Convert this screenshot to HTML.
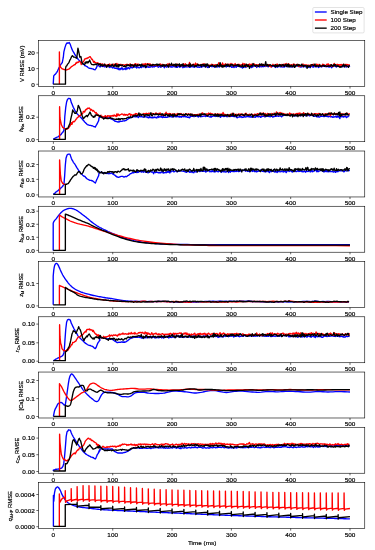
<!DOCTYPE html>
<html><head><meta charset="utf-8"><style>
html,body{margin:0;padding:0;background:#fff;width:375px;height:550px;overflow:hidden}
svg{display:block;will-change:transform;filter:blur(0.3px)}
.tl{font-family:"Liberation Sans",sans-serif;font-size:6.2px;fill:#000;stroke:#000;stroke-width:0.18px}
.yl{font-family:"Liberation Sans",sans-serif;font-size:6px;fill:#000;stroke:#000;stroke-width:0.18px}
</style></head><body>
<svg width="375" height="550" viewBox="0 0 375 550">
<rect width="375" height="550" fill="#fff"/>
<polyline points="53.2,84.19 53.73,75.87 54.53,74.82 55.33,74.27 56.04,73.28 56.76,72.33 57.47,71.07 58.18,69.54 58.89,67.96 59.6,66.8 60.67,64.67 61.47,63.59 62.27,62.53 63.33,57.2 63.87,51.87 64.93,47.6 66,44.4 67.07,42.8 68.13,43.33 69.2,42.48 70.27,44.4 71.33,47.6 72.4,50.27 73.2,51.7 74,52.93 74.8,54.49 75.6,55.6 76.31,56.42 77.02,57.47 77.73,58.8 78.44,59.65 79.16,60.32 79.87,60.93 80.58,61.95 81.29,62.55 82,63.07 82.71,63.58 83.42,64.08 84.13,64.67 84.84,65.71 85.56,65.68 86.27,66.27 86.98,66.64 87.69,67.11 88.4,67.87 89.04,68.06 89.69,68.25 90.33,68.4 91,68.46 91.67,68.65 92.33,68.85 93,68.93 93.67,69.34 94.33,69.69 95,69.73 95.67,68.91 96.33,68 97,66.31 97.67,65.33 98.33,64.27 98.93,65.92 99.53,66.36 100.13,66.99 100.73,66.1 101.33,66.15 101.93,65.91 102.53,66.58 103.13,66.14 103.73,65.9 104.33,66.91 104.93,65.4 105.53,66.29 106.13,67.03 106.73,66.14 107.33,66.17 107.93,66.39 108.53,66.83 109.13,66.03 109.73,67.55 110.33,66.56 110.93,66.82 111.53,66.89 112.13,67.66 112.73,67.93 113.33,66.85 113.93,67.5 114.53,68.18 115.13,68.41 115.73,68.03 116.33,68.6 116.93,68.42 117.53,67.98 118.13,69.59 118.73,68.59 119.33,68.77 119.93,69.82 120.53,68.39 121.13,69.22 121.73,67.79 122.33,67.87 122.93,69.71 123.53,69.11 124.13,68.86 124.73,69.07 125.33,68.12 125.93,69.63 126.53,67.79 127.13,68.97 127.73,67.94 128.33,67.49 128.93,68.51 129.53,68.89 130.13,67.65 130.73,67.41 131.33,66.3 131.93,67.89 132.53,67.94 133.13,66.95 133.73,67.13 134.33,66.33 134.93,67 135.53,66.82 136.13,67.34 136.73,67.92 137.33,66.21 137.93,66.94 138.53,67.59 139.13,67.88 139.73,67.55 140.33,66.72 140.93,67.43 141.53,67.66 142.13,66.65 142.73,66.62 143.33,66.42 143.93,66.98 144.53,66.59 145.13,66.52 145.73,67.67 146.33,67.2 146.93,67.18 147.53,66.86 148.13,66.54 148.73,67.33 149.33,66.94 149.93,67.2 150.53,67.02 151.13,66.56 151.73,66.33 152.33,67.14 152.93,66.29 153.53,66.1 154.13,67.03 154.73,66.45 155.33,66.41 155.93,66.43 156.53,65.87 157.13,65.7 157.73,66.74 158.33,67.28 158.93,66.86 159.53,65.83 160.13,65.96 160.73,67.22 161.33,66.97 161.93,66.24 162.53,66.24 163.13,65.73 163.73,66.39 164.33,67.85 164.93,65.61 165.53,65.98 166.13,67.01 166.73,67.1 167.33,65.89 167.93,66.51 168.53,66.71 169.13,66.7 169.73,66.1 170.33,66.93 170.93,65.99 171.53,67.16 172.13,67.13 172.73,66.75 173.33,66.66 173.93,66.51 174.53,66.5 175.13,67.1 175.73,66.42 176.33,67.33 176.93,66.75 177.53,67.35 178.13,66.41 178.73,66.09 179.33,66.54 179.93,67.21 180.53,65.86 181.13,66.19 181.73,66.59 182.33,66.12 182.93,67.68 183.53,66.46 184.13,67.05 184.73,67.2 185.33,66.08 185.93,66.79 186.53,66.95 187.13,66.69 187.73,66.77 188.33,66.55 188.93,66.18 189.53,67.39 190.13,67.28 190.73,66.91 191.33,66.42 191.93,66.51 192.53,66.64 193.13,67.07 193.73,66.6 194.33,67.23 194.93,66.89 195.53,66.53 196.13,66.73 196.73,65.9 197.33,66.99 197.93,67.26 198.53,67 199.13,67.08 199.73,67.33 200.33,66.96 200.93,66.17 201.53,67.2 202.13,66.38 202.73,66.8 203.33,65.71 203.93,65.79 204.53,66.63 205.13,66.72 205.73,66.06 206.33,66.32 206.93,66.68 207.53,67.45 208.13,66.52 208.73,67.47 209.33,65.66 209.93,66.29 210.53,66.14 211.13,66.58 211.73,66.33 212.33,66.63 212.93,66.51 213.53,66.53 214.13,66.43 214.73,67.23 215.33,66.12 215.93,65.85 216.53,65.69 217.13,67.04 217.73,66.13 218.33,66.48 218.93,66.51 219.53,67.05 220.13,65.84 220.73,66.05 221.33,65.93 221.93,65.71 222.53,66.67 223.13,65.82 223.73,66.32 224.33,66.3 224.93,66.09 225.53,65.84 226.13,67.05 226.73,66.11 227.33,66.31 227.93,65.64 228.53,66.14 229.13,66.66 229.73,66.24 230.33,66.45 230.93,66.17 231.53,67.29 232.13,67.32 232.73,66.67 233.33,65.85 233.93,67.53 234.53,66.82 235.13,66.92 235.73,66.61 236.33,67.18 236.93,65.95 237.53,66.31 238.13,66.28 238.73,66.33 239.33,66.67 239.93,66.69 240.53,67.16 241.13,66.01 241.73,66.95 242.33,68.05 242.93,67.75 243.53,66.34 244.13,67.23 244.73,65.63 245.33,66.62 245.93,67.46 246.53,66.32 247.13,66.09 247.73,66.44 248.33,66.19 248.93,65.75 249.53,66.14 250.13,66.09 250.73,66.58 251.33,67.57 251.93,66.31 252.53,67.08 253.13,66.63 253.73,66.07 254.33,66.16 254.93,65.7 255.53,66.23 256.13,66.2 256.73,67.46 257.33,66.6 257.93,66.38 258.53,66.42 259.13,66.34 259.73,67.15 260.33,65.93 260.93,66.13 261.53,66.73 262.13,66.67 262.73,66.67 263.33,66.73 263.93,66.36 264.53,65.91 265.13,66.51 265.73,65.39 266.33,65.69 266.93,66.16 267.53,65.53 268.13,66.92 268.73,66.47 269.33,65.8 269.93,66.13 270.53,66.26 271.13,66.39 271.73,66.8 272.33,66.36 272.93,66.24 273.53,65.88 274.13,66.38 274.73,66.41 275.33,67.44 275.93,66.73 276.53,66.37 277.13,65.96 277.73,67.29 278.33,66.24 278.93,66.07 279.53,66.08 280.13,66.76 280.73,66.85 281.33,66.83 281.93,66.73 282.53,66.84 283.13,67.06 283.73,65.86 284.33,67.14 284.93,66.45 285.53,65.51 286.13,66.48 286.73,66.26 287.33,66.72 287.93,66.75 288.53,66.2 289.13,66.51 289.73,65.72 290.33,66.15 290.93,67.3 291.53,65.89 292.13,66.36 292.73,66.74 293.33,66.6 293.93,66.67 294.53,66.52 295.13,66.53 295.73,65.1 296.33,66.1 296.93,65.63 297.53,65.91 298.13,65.47 298.73,65.99 299.33,65.7 299.93,66.81 300.53,66.99 301.13,66.6 301.73,66.96 302.33,65.55 302.93,66.58 303.53,66.51 304.13,66.52 304.73,66.33 305.33,66.71 305.93,67 306.53,66.52 307.13,67.07 307.73,66.58 308.33,67.25 308.93,65.53 309.53,66.24 310.13,67.72 310.73,66.78 311.33,65.88 311.93,66.2 312.53,66.58 313.13,67.21 313.73,66 314.33,66.58 314.93,66.68 315.53,66.39 316.13,67.02 316.73,65.44 317.33,66.1 317.93,66.84 318.53,67.44 319.13,67.02 319.73,66.63 320.33,66.3 320.93,65.73 321.53,66.96 322.13,66.54 322.73,66.34 323.33,66.3 323.93,66.28 324.53,65.49 325.13,66.6 325.73,66.15 326.33,66.79 326.93,65.67 327.53,65.99 328.13,66.99 328.73,65.36 329.33,67.01 329.93,66.94 330.53,66.36 331.13,65.84 331.73,67.83 332.33,66.42 332.93,65.94 333.53,65.75 334.13,66.18 334.73,65.84 335.33,66.5 335.93,66.52 336.53,67.03 337.13,66.28 337.73,66.35 338.33,66.35 338.93,65.92 339.53,66.32 340.13,66.59 340.73,66.42 341.33,66.34 341.93,66.1 342.53,66.76 343.13,65.52 343.73,66.33 344.33,65.69 344.93,66.06 345.53,65.54 346.13,67.18 346.73,65.91 347.33,66.59 347.93,65.78 348.53,66.72 349.13,65.53 349.73,66.69" stroke="#0000ff" stroke-width="1.35" fill="none" stroke-linejoin="round"/>
<polyline points="59.39,84.19 59.39,51.87 59.6,64.67 60.67,67.33 61.47,68.13 62.27,68.93 63.07,69.2 63.87,69.47 64.58,69.64 65.29,69.82 66,70 66.64,69.79 67.28,69.57 67.92,69.36 68.56,69.15 69.2,68.93 69.91,68.22 70.62,67.51 71.33,66.8 71.97,66.37 72.61,65.95 73.25,65.52 73.89,65.09 74.53,64.67 75.17,64.66 75.81,62.96 76.45,63.28 77.09,62.08 77.73,62.53 78.44,62.18 79.16,61.36 79.87,61.47 80.58,62.13 81.29,64.51 82,63.07 82.71,62.15 83.42,61.79 84.13,60.4 84.84,58.89 85.56,58.8 86.27,58.27 86.98,58.49 87.69,57.86 88.4,57.73 87.67,58 88.33,57.78 89,57.17 89.67,56.67 90.33,56.73 91,58 91.67,59.23 92.33,59.29 93,60.67 93.67,62.29 94.33,61.36 95,62.58 95.67,62.67 96.33,62.83 97,63.57 97.67,62.81 98.33,63.33 98.93,64.72 99.53,63.83 100.13,64.93 100.73,63.54 101.33,64.92 101.93,64.79 102.53,63.89 103.13,65.09 103.73,65.66 104.33,65.34 104.93,64.15 105.53,65.64 106.13,65.31 106.73,65.01 107.33,64.76 107.93,64.62 108.53,65.91 109.13,64.15 109.73,64.05 110.33,65.12 110.93,65.07 111.53,65.1 112.13,64.36 112.73,65.63 113.33,65.55 113.93,63.98 114.53,64.8 115.13,65.67 115.73,63.98 116.33,65.2 116.93,63.32 117.53,65.53 118.13,64.59 118.73,64.24 119.33,65.14 119.93,64.6 120.53,64.32 121.13,64.37 121.73,66.09 122.33,64.99 122.93,64.67 123.53,64.93 124.13,65.2 124.73,65.22 125.33,64.66 125.93,65.02 126.53,64.31 127.13,64.44 127.73,64.37 128.33,65.5 128.93,64.79 129.53,65.44 130.13,63.81 130.73,64.76 131.33,65.14 131.93,66.1 132.53,64.55 133.13,64.72 133.73,65.47 134.33,65.31 134.93,63.91 135.53,63.62 136.13,65.22 136.73,64.26 137.33,65.91 137.93,63.89 138.53,64.75 139.13,64.77 139.73,65.02 140.33,65.08 140.93,65.24 141.53,64.79 142.13,64.59 142.73,63.89 143.33,64.5 143.93,64.1 144.53,64.03 145.13,65.1 145.73,63.53 146.33,64.54 146.93,64.53 147.53,63.77 148.13,63.64 148.73,64.21 149.33,65.88 149.93,63.81 150.53,64.27 151.13,65.49 151.73,65.52 152.33,64.44 152.93,65.65 153.53,64.67 154.13,65.13 154.73,65.14 155.33,64.98 155.93,64.81 156.53,64.8 157.13,65.55 157.73,65.75 158.33,64.81 158.93,64.95 159.53,64.93 160.13,63.76 160.73,65.83 161.33,65.81 161.93,64.51 162.53,64.32 163.13,64.97 163.73,65.41 164.33,64.72 164.93,66.09 165.53,65.3 166.13,65 166.73,65.42 167.33,63.96 167.93,65.1 168.53,65.76 169.13,63.32 169.73,65.57 170.33,64.74 170.93,65 171.53,65.17 172.13,64.87 172.73,65.15 173.33,64.34 173.93,64.48 174.53,65.68 175.13,65.37 175.73,65.13 176.33,64.7 176.93,64.06 177.53,65.36 178.13,65.49 178.73,64.54 179.33,64.65 179.93,64.94 180.53,65.38 181.13,65.35 181.73,65.71 182.33,65.32 182.93,65.74 183.53,63.7 184.13,65.05 184.73,64.81 185.33,63.72 185.93,64.56 186.53,65.2 187.13,65.6 187.73,65.96 188.33,64.46 188.93,64.64 189.53,62.49 190.13,65.67 190.73,66.15 191.33,65.32 191.93,64.94 192.53,65.12 193.13,64.15 193.73,64.16 194.33,65.05 194.93,65.43 195.53,63.06 196.13,65.34 196.73,64.35 197.33,63.88 197.93,65.2 198.53,64.62 199.13,64.85 199.73,65.29 200.33,64.84 200.93,64.7 201.53,64.59 202.13,64.22 202.73,65.13 203.33,63.88 203.93,65.12 204.53,63.87 205.13,65.33 205.73,64.84 206.33,64.49 206.93,64.42 207.53,65.61 208.13,65.26 208.73,65.19 209.33,65.09 209.93,65.35 210.53,65.48 211.13,64.72 211.73,64.27 212.33,65.41 212.93,64.53 213.53,65.96 214.13,65.03 214.73,65.25 215.33,64.71 215.93,64.99 216.53,65.04 217.13,65.18 217.73,64.76 218.33,64.19 218.93,62.61 219.53,64.4 220.13,65.99 220.73,64.95 221.33,64.73 221.93,64.98 222.53,62.99 223.13,64.6 223.73,64.98 224.33,64.94 224.93,64.69 225.53,63.73 226.13,64.79 226.73,64.79 227.33,64.26 227.93,64.34 228.53,65.09 229.13,64.14 229.73,64.83 230.33,64.85 230.93,63.41 231.53,64.71 232.13,64.13 232.73,64.27 233.33,66.07 233.93,64.94 234.53,64.65 235.13,63.57 235.73,65.46 236.33,65.73 236.93,64.67 237.53,64.4 238.13,64.97 238.73,64.3 239.33,64.47 239.93,65.83 240.53,64.98 241.13,65.11 241.73,64.78 242.33,65.09 242.93,63.28 243.53,64.88 244.13,65.04 244.73,63.7 245.33,64.22 245.93,65.63 246.53,66.21 247.13,64.6 247.73,65.71 248.33,64.33 248.93,65.82 249.53,64.06 250.13,64.53 250.73,65.01 251.33,64.22 251.93,65.66 252.53,64.04 253.13,64.98 253.73,64.47 254.33,63.96 254.93,64.82 255.53,64.93 256.13,64.75 256.73,65.93 257.33,64.83 257.93,64.78 258.53,64.71 259.13,64.64 259.73,64.41 260.33,65.57 260.93,65.08 261.53,65.51 262.13,64.79 262.73,64.2 263.33,64.89 263.93,64.98 264.53,64.97 265.13,65.39 265.73,65.81 266.33,64.73 266.93,64.84 267.53,65.54 268.13,64.58 268.73,64.65 269.33,66.37 269.93,65.05 270.53,65.13 271.13,67.17 271.73,65.63 272.33,65.26 272.93,64.33 273.53,65.56 274.13,65.5 274.73,65.53 275.33,64.52 275.93,65.43 276.53,64.46 277.13,63.98 277.73,65.29 278.33,65.06 278.93,65.75 279.53,64.88 280.13,64.88 280.73,65.3 281.33,64.47 281.93,65.97 282.53,65.91 283.13,64.24 283.73,64.91 284.33,65.41 284.93,64.02 285.53,65.28 286.13,63.5 286.73,64.87 287.33,64.65 287.93,66.22 288.53,63.63 289.13,64.65 289.73,64.73 290.33,64.84 290.93,66.4 291.53,64.61 292.13,65.34 292.73,65.04 293.33,64.02 293.93,64.37 294.53,64.4 295.13,64.82 295.73,64.96 296.33,65.35 296.93,65.27 297.53,64.28 298.13,65.21 298.73,66.67 299.33,65 299.93,65.48 300.53,66.3 301.13,65.51 301.73,65.22 302.33,65.77 302.93,63.94 303.53,66.1 304.13,64.97 304.73,65.55 305.33,65.15 305.93,64.66 306.53,65.63 307.13,65.31 307.73,66.1 308.33,65.22 308.93,65.42 309.53,65.85 310.13,65.07 310.73,64.78 311.33,65.84 311.93,65.4 312.53,64.59 313.13,64.28 313.73,64.39 314.33,65.53 314.93,65.73 315.53,65.03 316.13,65.39 316.73,64.16 317.33,64.5 317.93,65.92 318.53,65.47 319.13,64.26 319.73,65.76 320.33,65.64 320.93,65.19 321.53,65.87 322.13,66.37 322.73,64.13 323.33,65.03 323.93,64.58 324.53,65.28 325.13,65.67 325.73,65.79 326.33,64.97 326.93,64.3 327.53,64.75 328.13,63.76 328.73,65.13 329.33,65.63 329.93,64.94 330.53,64.72 331.13,65.3 331.73,66.11 332.33,65.99 332.93,65.21 333.53,66.35 334.13,63.4 334.73,64.57 335.33,64.61 335.93,65.18 336.53,64.67 337.13,64.48 337.73,64.41 338.33,64.88 338.93,64.68 339.53,66.78 340.13,64.54 340.73,65.14 341.33,64.44 341.93,65.51 342.53,65.26 343.13,64.31 343.73,64.28 344.33,65.07 344.93,65.52 345.53,64.33 346.13,65.93 346.73,64.34 347.33,64.63 347.93,65.13 348.53,64.84 349.13,64.82 349.73,65.1" stroke="#ff0000" stroke-width="1.35" fill="none" stroke-linejoin="round"/>
<polyline points="53.2,84.19 65.47,84.19 65.47,68.93 66,66.27 66.71,65.88 67.42,64.43 68.13,63.6 68.93,62.63 69.73,60.4 70.53,59.11 71.33,57.2 72.4,55.6 73.2,56.47 74,57.2 74.8,57.08 75.6,57.73 76.67,58.27 77.31,53.58 77.95,48.13 78.8,51.87 79.87,57.2 80.93,56.67 82,62.53 83.07,64.13 83.78,64.19 84.49,64.6 85.2,63.6 85.91,62.88 86.62,62.81 87.33,62 88.4,62.53 87.72,62.81 87.04,62.73 86.36,62.72 85.68,62.73 85,62.67 85.67,62.2 86.33,61.83 87,61.97 87.67,62 88.33,61.63 89,61.42 89.67,60 90.33,62.16 91,63.33 91.67,64.3 92.33,64.61 93,64.67 93.67,64.85 94.33,64.43 95,64.55 95.67,64 96.33,64.89 97,63.84 97.67,63.65 98.33,64 98.93,64.72 99.53,64.17 100.13,63.95 100.73,65.76 101.33,64.94 101.93,64.48 102.53,66 103.13,65.64 103.73,65.38 104.33,64.08 104.93,65.3 105.53,65.06 106.13,65.69 106.73,67.27 107.33,65.78 107.93,65.87 108.53,64.62 109.13,66.01 109.73,65.65 110.33,65.76 110.93,66.02 111.53,66.13 112.13,64.26 112.73,65.76 113.33,66.06 113.93,66.35 114.53,64.92 115.13,66.16 115.73,63.99 116.33,65.87 116.93,66.85 117.53,65.98 118.13,64.66 118.73,67.02 119.33,64.74 119.93,65.55 120.53,65.12 121.13,65.5 121.73,65.13 122.33,65.04 122.93,65.95 123.53,66.35 124.13,66.55 124.73,65.71 125.33,66.77 125.93,66.93 126.53,65.05 127.13,64.93 127.73,65.71 128.33,64.9 128.93,65.44 129.53,65.42 130.13,66.47 130.73,64.51 131.33,65.31 131.93,64.87 132.53,65.52 133.13,65.33 133.73,66.94 134.33,65.46 134.93,64.5 135.53,65.24 136.13,66.25 136.73,65.93 137.33,64.7 137.93,65.42 138.53,65.48 139.13,65.34 139.73,64.44 140.33,65.36 140.93,66.46 141.53,64.24 142.13,65.57 142.73,65.2 143.33,66.13 143.93,65.74 144.53,65.78 145.13,65.12 145.73,67.19 146.33,66.54 146.93,65.52 147.53,64.19 148.13,64.68 148.73,64.84 149.33,65.1 149.93,65.57 150.53,64.84 151.13,65.56 151.73,65.23 152.33,65.33 152.93,64.37 153.53,64.6 154.13,65.18 154.73,64.97 155.33,65 155.93,64.53 156.53,64.15 157.13,65.34 157.73,64.13 158.33,65.22 158.93,64.45 159.53,64.52 160.13,65.42 160.73,65.76 161.33,65.92 161.93,65.22 162.53,66.17 163.13,64.54 163.73,65.61 164.33,65.01 164.93,66.28 165.53,65.47 166.13,64.72 166.73,65 167.33,65.64 167.93,66.04 168.53,67.12 169.13,64.16 169.73,64.94 170.33,64.86 170.93,65.06 171.53,63.13 172.13,65.26 172.73,65.38 173.33,65.41 173.93,64.42 174.53,64.49 175.13,65.86 175.73,63.89 176.33,66.57 176.93,64.33 177.53,64.38 178.13,65.06 178.73,65 179.33,63.82 179.93,66.51 180.53,66.13 181.13,64.46 181.73,64.91 182.33,65.6 182.93,63.82 183.53,66.04 184.13,65.56 184.73,66.09 185.33,65.36 185.93,65.87 186.53,64.98 187.13,65.42 187.73,65.22 188.33,64.9 188.93,66.54 189.53,65.95 190.13,63.63 190.73,66.38 191.33,65.24 191.93,65.87 192.53,64.8 193.13,64.72 193.73,64.96 194.33,66.58 194.93,65.97 195.53,65.52 196.13,66.48 196.73,65.53 197.33,64.91 197.93,64.23 198.53,65.41 199.13,65.85 199.73,65.29 200.33,65.42 200.93,64.58 201.53,66.62 202.13,64.77 202.73,64.61 203.33,64.43 203.93,65.88 204.53,65.79 205.13,64.25 205.73,67 206.33,64.26 206.93,65.55 207.53,63.9 208.13,65.37 208.73,65.6 209.33,67.19 209.93,65.68 210.53,65.79 211.13,65.39 211.73,65.47 212.33,65.04 212.93,65.77 213.53,66.31 214.13,66.3 214.73,65.56 215.33,65.83 215.93,67.16 216.53,66.24 217.13,64.42 217.73,65.73 218.33,65.42 218.93,66.5 219.53,65.99 220.13,62.61 220.73,65.22 221.33,66.84 221.93,65.3 222.53,67.04 223.13,65.58 223.73,66.88 224.33,65.4 224.93,66.3 225.53,65.93 226.13,64.35 226.73,65.32 227.33,66.06 227.93,64.17 228.53,65.61 229.13,65.97 229.73,66.56 230.33,64.61 230.93,65.28 231.53,64.39 232.13,65.04 232.73,64.81 233.33,65.86 233.93,66.14 234.53,65.31 235.13,65.39 235.73,65.04 236.33,65.47 236.93,64.98 237.53,64.61 238.13,66.08 238.73,64.74 239.33,66.42 239.93,65.77 240.53,66 241.13,66.35 241.73,66.7 242.33,64.65 242.93,66.4 243.53,67.02 244.13,65.92 244.73,65.08 245.33,66.54 245.93,65.07 246.53,64.19 247.13,65.72 247.73,66.46 248.33,64.97 248.93,65.99 249.53,68.37 250.13,66.53 250.73,65.92 251.33,65.52 251.93,66.17 252.53,65.83 253.13,63.53 253.73,64.59 254.33,65.49 254.93,65.74 255.53,66.36 256.13,65.11 256.73,65.13 257.33,65.93 257.93,65.78 258.53,66.46 259.13,65.96 259.73,63.9 260.33,64.58 260.93,65.41 261.53,63.83 262.13,64.7 262.73,65.83 263.33,64.44 263.93,64.94 264.53,65.64 265.13,64.47 265.73,61.72 266.33,65.55 266.93,65.82 267.53,64.47 268.13,66.08 268.73,65.49 269.33,65.4 269.93,64.68 270.53,65.02 271.13,65.35 271.73,65.89 272.33,65.69 272.93,65.63 273.53,65.6 274.13,65.43 274.73,66.54 275.33,64.77 275.93,66.79 276.53,65.39 277.13,66.51 277.73,65.3 278.33,66.17 278.93,64.97 279.53,64.39 280.13,65.93 280.73,64.89 281.33,66.24 281.93,65.63 282.53,64.68 283.13,64.63 283.73,65.69 284.33,66.33 284.93,65.04 285.53,64.57 286.13,65.15 286.73,66.51 287.33,64.09 287.93,66.07 288.53,64.28 289.13,66.98 289.73,65.16 290.33,66.36 290.93,65.59 291.53,65.26 292.13,66.88 292.73,66.6 293.33,65.62 293.93,64.4 294.53,67.43 295.13,66.86 295.73,65.6 296.33,65.48 296.93,64.34 297.53,65.79 298.13,65.76 298.73,64.56 299.33,65.12 299.93,65.64 300.53,65.27 301.13,65.9 301.73,64.23 302.33,65.49 302.93,65.31 303.53,66.76 304.13,65.38 304.73,65.33 305.33,65.9 305.93,65.59 306.53,66.03 307.13,68.26 307.73,65.47 308.33,66.35 308.93,66.61 309.53,65.89 310.13,67.06 310.73,65.99 311.33,64.79 311.93,64.59 312.53,64.9 313.13,65.46 313.73,65.69 314.33,65.45 314.93,63.88 315.53,66.46 316.13,65.6 316.73,66.24 317.33,65.81 317.93,65.86 318.53,66.35 319.13,66.06 319.73,64.94 320.33,65.88 320.93,66.59 321.53,66.01 322.13,65.99 322.73,65.48 323.33,65.64 323.93,65.35 324.53,66.4 325.13,65.49 325.73,66.2 326.33,66.34 326.93,66.21 327.53,66.4 328.13,66.07 328.73,65.83 329.33,66.09 329.93,65.99 330.53,66.29 331.13,64.63 331.73,65.08 332.33,65.89 332.93,66.61 333.53,65.07 334.13,64.52 334.73,65.55 335.33,64.57 335.93,66.22 336.53,65.89 337.13,66.29 337.73,65.57 338.33,66.13 338.93,66.6 339.53,66.57 340.13,67.35 340.73,66.61 341.33,67.08 341.93,66.51 342.53,65.75 343.13,65.07 343.73,64.3 344.33,67 344.93,65.62 345.53,65.14 346.13,65.6 346.73,66.02 347.33,66.46 347.93,66.27 348.53,67.31 349.13,65.61 349.73,65.76" stroke="#000000" stroke-width="1.35" fill="none" stroke-linejoin="round"/>
<polyline points="53.33,139.33 53.96,138.78 54.58,138.36 55.2,138.17 55.82,137.73 56.44,137.64 57.07,137.07 57.73,136.91 58.4,136.58 59.07,135.89 59.73,135.47 60.43,134.84 61.13,134.36 61.83,133.18 62.53,132.53 63.2,131.72 63.87,130.4 64.4,124 64.8,116.67 65.73,107.47 66.6,102 67.47,99.47 68.2,98.74 68.93,98.27 69.6,98.63 70.27,98.67 71.33,102.67 72,104 72.67,105.72 73.33,107.33 74,108.64 74.67,109.97 75.33,111.33 76,111.94 76.67,113.13 77.33,114 78,114.63 78.67,115.56 79.33,116 80,116.76 80.67,117.02 81.33,118.02 82,118.67 82.67,119.66 83.33,120.32 84,121.07 84.67,122 85.33,122.47 86,123.28 86.67,123.87 87.33,124.67 88,124.8 88.67,124.96 89.33,125.36 90,125.33 90.67,125.36 91.33,125.72 92,125.68 92.67,126 93.33,126.31 94,126.69 94.67,126.72 95.33,127.07 96,125.7 96.67,124.67 97.33,123.34 98,122.01 98.67,120.67 99,118 99.67,117.24 100.33,116.67 101,116.9 101.67,117.02 102.33,117.27 103,117.33 103.67,117.22 104.33,117.62 105,117.78 105.67,117.55 106.33,118.05 107,117.87 107.67,117.73 108.33,118 109,118.07 109.67,118.34 110.33,118.57 111,118.86 111.67,119.16 112.33,119.33 113,119.81 113.67,120.29 114.33,120.69 115,121.33 115.67,121.2 116.33,121.57 117,121.66 117.67,122 118.33,122.02 119,121.42 119.67,121.84 120.33,121.13 121,121.42 121.67,121.33 122.33,121.23 123,120.95 123.67,120.86 124.33,121.02 125,120.62 125.67,120.67 126.33,120.16 127,119.68 127.67,119.27 128.33,118.67 129,118.15 129.67,118.2 130.33,117.65 131,117.33 131.67,117.32 132.33,116.79 133,117 133.67,116.67 134.33,116.66 135,116.79 135.67,116.58 136.33,116.8 137,116.68 137.67,116.67 138.27,117.57 138.87,116.68 139.47,116.64 140.07,116.34 140.67,116.82 141.27,116.73 141.87,116.15 142.47,116.86 143.07,117.12 143.67,117.2 144.27,116.67 144.87,116.89 145.47,116.76 146.07,116.94 146.67,116.79 147.27,117.56 147.87,116.97 148.47,117.8 149.07,117.75 149.67,116.12 150.27,117.56 150.87,117.62 151.47,117.53 152.07,117.95 152.67,116.99 153.27,117.73 153.87,117.5 154.47,116.87 155.07,117.52 155.67,117.31 156.27,117.43 156.87,118.04 157.47,116.91 158.07,116.13 158.67,117.46 159.27,116.98 159.87,116.73 160.47,116.88 161.07,117.07 161.67,115.95 162.27,117.49 162.87,117.47 163.47,116.53 164.07,117.33 164.67,117.28 165.27,117.1 165.87,117.29 166.47,117.29 167.07,117.23 167.67,117.07 168.27,116.57 168.87,116.85 169.47,116.39 170.07,116.48 170.67,116.76 171.27,116.46 171.87,116.96 172.47,116.93 173.07,116.66 173.67,116.85 174.27,116.08 174.87,116.61 175.47,115.63 176.07,116.99 176.67,116.41 177.27,116.06 177.87,116.69 178.47,116.43 179.07,117.19 179.67,116.64 180.27,116.99 180.87,116.47 181.47,117.19 182.07,116.41 182.67,116.47 183.27,116.77 183.87,116.62 184.47,116.21 185.07,116.72 185.67,116.73 186.27,116.96 186.87,116.64 187.47,117.41 188.07,117.36 188.67,116.98 189.27,117.84 189.87,117.62 190.47,115.99 191.07,116.22 191.67,116.34 192.27,116.33 192.87,116.05 193.47,116.37 194.07,116.75 194.67,115.64 195.27,115.98 195.87,116.01 196.47,116.12 197.07,115.95 197.67,116.55 198.27,117.08 198.87,116.01 199.47,115.84 200.07,116.61 200.67,116.72 201.27,116.44 201.87,116.62 202.47,116.34 203.07,116.23 203.67,116.14 204.27,116.13 204.87,115.72 205.47,116.53 206.07,115.57 206.67,116.01 207.27,116.36 207.87,115.94 208.47,116.26 209.07,116.59 209.67,116.9 210.27,116.99 210.87,116.26 211.47,116.99 212.07,116.33 212.67,116.4 213.27,116.18 213.87,115.73 214.47,115.73 215.07,116.43 215.67,115.87 216.27,116.38 216.87,116.15 217.47,115.86 218.07,116.28 218.67,115.99 219.27,114.59 219.87,116.68 220.47,117.25 221.07,116.5 221.67,115.76 222.27,116.2 222.87,115.29 223.47,116.56 224.07,115.73 224.67,116.43 225.27,115.69 225.87,116.11 226.47,115.53 227.07,116.86 227.67,115.98 228.27,116.5 228.87,115.99 229.47,116.17 230.07,116.04 230.67,116.52 231.27,116.23 231.87,116.05 232.47,116.37 233.07,115.96 233.67,116.57 234.27,116.71 234.87,116.59 235.47,116.55 236.07,116.41 236.67,117.52 237.27,117.84 237.87,117.09 238.47,117.07 239.07,117.1 239.67,116.03 240.27,117.08 240.87,116.96 241.47,116.61 242.07,117.5 242.67,117.2 243.27,117.26 243.87,116.67 244.47,116.53 245.07,117.15 245.67,116.8 246.27,116.87 246.87,116.51 247.47,116.65 248.07,116.04 248.67,116.76 249.27,116.21 249.87,117.08 250.47,117.15 251.07,116.41 251.67,117.18 252.27,116.81 252.87,117.18 253.47,116.88 254.07,116.88 254.67,117.09 255.27,117.4 255.87,116.3 256.47,116.58 257.07,116.69 257.67,116.57 258.27,116.82 258.87,116.77 259.47,116.45 260.07,116.18 260.67,117.37 261.27,116.94 261.87,116.57 262.47,116.25 263.07,116.42 263.67,116.08 264.27,115.88 264.87,117.03 265.47,116.3 266.07,116.49 266.67,116.18 267.27,116.11 267.87,116.23 268.47,116.41 269.07,116.56 269.67,116.24 270.27,116.78 270.87,116.27 271.47,116.08 272.07,116.23 272.67,117.14 273.27,116.66 273.87,116.93 274.47,116.19 275.07,116.24 275.67,116.27 276.27,116.39 276.87,115.53 277.47,115.86 278.07,116.25 278.67,116.42 279.27,115.95 279.87,115.91 280.47,115.9 281.07,116.36 281.67,116.88 282.27,116.12 282.87,115.45 283.47,115.54 284.07,115.44 284.67,115.15 285.27,115.14 285.87,115.47 286.47,115.26 287.07,115.21 287.67,115.05 288.27,115.05 288.87,115.5 289.47,115.08 290.07,114.58 290.67,114.87 291.27,115.25 291.87,114.5 292.47,114.93 293.07,114.93 293.67,115.38 294.27,116.09 294.87,115.13 295.47,115.86 296.07,115.37 296.67,115.7 297.27,115.45 297.87,115.17 298.47,115.43 299.07,114.4 299.67,115.05 300.27,115.58 300.87,115.97 301.47,114.95 302.07,114.59 302.67,115.49 303.27,115.65 303.87,115.3 304.47,114.73 305.07,115.39 305.67,115.88 306.27,115.61 306.87,115.02 307.47,115.16 308.07,115 308.67,115.16 309.27,115.81 309.87,115.76 310.47,115.04 311.07,114.96 311.67,115.35 312.27,115.54 312.87,115.49 313.47,116.15 314.07,116.25 314.67,116.26 315.27,115.91 315.87,116.08 316.47,116.58 317.07,117.05 317.67,116.11 318.27,115.6 318.87,117.19 319.47,117.09 320.07,116.77 320.67,116.19 321.27,116.05 321.87,116.31 322.47,116.33 323.07,115.85 323.67,116.65 324.27,116.56 324.87,116.36 325.47,115.53 326.07,116.22 326.67,116.16 327.27,116.58 327.87,116.19 328.47,116.9 329.07,116.38 329.67,116.17 330.27,116.71 330.87,116.98 331.47,116.63 332.07,116.71 332.67,117.28 333.27,116.78 333.87,117.25 334.47,116.95 335.07,116.4 335.67,116.84 336.27,116.19 336.87,117.32 337.47,115.96 338.07,117.02 338.67,116.47 339.27,117.54 339.87,118.6 340.47,115.88 341.07,116.09 341.67,116.67 342.27,115.91 342.87,116.87 343.47,117.07 344.07,116.28 344.67,116.71 345.27,116.36 345.87,116.69 346.47,117.57 347.07,116.94 347.67,116.94 348.27,116.31 348.87,115.8 349.47,115.85" stroke="#0000ff" stroke-width="1.35" fill="none" stroke-linejoin="round"/>
<polyline points="59.6,139.33 59.6,106.67 60,118 60.67,121.33 61.33,124.67 62,126 62.67,127.33 63.33,127.78 64,128.22 64.67,128.67 65.33,128.89 66,129.11 66.67,129.33 67.33,128.89 68,128.44 68.67,128 69.33,126.89 70,125.78 70.67,124.67 71.33,122.66 72,124.39 72.67,122 73.33,121.4 74,121.85 74.67,121.33 75.33,120.35 76,119.3 76.67,118.67 77.33,117.57 78,117.45 78.67,116 79.33,116.24 80,115.33 80.67,115.46 81.33,113.49 82,114 82.67,113.61 83.33,111.34 84,111.33 84.67,112.06 85.33,110.25 86,109.33 86.67,109.58 87.33,108.46 88,108 88.67,108.32 89.33,108.04 90,108.67 90.67,110.32 91.33,109.38 92,110 92.67,111.12 93.33,110.42 94,111.33 94.67,111.93 95.33,112.45 96,113.33 96.67,113.73 97.33,113.94 98,114.67 97.4,114.67 96.8,114.28 96.2,112.52 95.6,112.82 95,112.67 95.67,112.56 96.33,114 97,115.16 97.67,114.27 98.33,115.8 99,116 99.67,116.22 100.33,116.21 101,115.18 101.67,117.48 102.33,116.49 103,116.67 103.67,117.01 104.33,117.15 105,115.84 105.67,115.76 106.33,117.3 107,117.35 107.67,115.61 108.33,116 108.94,115.91 109.55,116.47 110.15,115.75 110.76,116.57 111.36,116.08 111.97,115.61 112.58,116 113.18,115.25 113.79,116.23 114.39,115.02 115,115.33 115.61,116.02 116.21,116.61 116.82,113.94 117.42,115.89 118.03,113.86 118.64,114.58 119.24,115.6 119.85,115.03 120.45,114.67 121.06,114.37 121.67,114 122.27,114.17 122.87,114.17 123.47,115.05 124.07,115 124.67,114.18 125.27,115.18 125.87,114.67 126.47,114.55 127.07,115.14 127.67,115.31 128.27,114.29 128.87,114.37 129.47,113.68 130.07,113.9 130.67,115.74 131.27,114.48 131.87,114.82 132.47,114.83 133.07,115.86 133.67,114.72 134.27,114.42 134.87,114.42 135.47,113.57 136.07,113.94 136.67,113.66 137.27,114.67 137.87,114.29 138.47,113.87 139.07,113.42 139.67,114.68 140.27,114.5 140.87,114.28 141.47,115.07 142.07,114.84 142.67,114.19 143.27,114.13 143.87,113.46 144.47,114.19 145.07,113.77 145.67,114.07 146.27,113.25 146.87,113.87 147.47,113.59 148.07,113.71 148.67,113.19 149.27,113.14 149.87,113.8 150.47,114 151.07,114.01 151.67,114 152.27,113.5 152.87,113.56 153.47,114.1 154.07,114.24 154.67,114.42 155.27,113.43 155.87,112.88 156.47,113.27 157.07,114.31 157.67,114.28 158.27,113.61 158.87,113.49 159.47,114.21 160.07,112.86 160.67,114.22 161.27,114.53 161.87,115.2 162.47,114.06 163.07,114.87 163.67,114.75 164.27,114.27 164.87,113.63 165.47,114.1 166.07,112.12 166.67,113.78 167.27,113.94 167.87,113.77 168.47,114.74 169.07,113.45 169.67,114.15 170.27,113.67 170.87,114.09 171.47,114.58 172.07,114.81 172.67,114.01 173.27,114.21 173.87,113.93 174.47,114.63 175.07,114.23 175.67,114.52 176.27,114.29 176.87,114.15 177.47,113.5 178.07,114.61 178.67,113.63 179.27,114.48 179.87,114.48 180.47,113.55 181.07,113.72 181.67,114.56 182.27,115.2 182.87,114.79 183.47,113.98 184.07,114.88 184.67,114.65 185.27,114.36 185.87,114.59 186.47,113.82 187.07,114.28 187.67,115 188.27,113.76 188.87,114.21 189.47,114.08 190.07,114.87 190.67,113.93 191.27,115.2 191.87,115.29 192.47,114.32 193.07,115.7 193.67,114.95 194.27,114.71 194.87,114.62 195.47,114.78 196.07,114.69 196.67,114.85 197.27,114.46 197.87,114.64 198.47,115.18 199.07,113.98 199.67,114.37 200.27,114.53 200.87,114.3 201.47,114.11 202.07,112.91 202.67,113 203.27,113.79 203.87,114.83 204.47,114.46 205.07,114.35 205.67,114.49 206.27,114.12 206.87,113.71 207.47,114.44 208.07,114.44 208.67,113.05 209.27,113.96 209.87,114.7 210.47,113.09 211.07,114.31 211.67,113.72 212.27,113.91 212.87,114.22 213.47,114.41 214.07,114.69 214.67,114.14 215.27,114.26 215.87,113.96 216.47,115 217.07,114.55 217.67,113.83 218.27,114.28 218.87,114.47 219.47,114.08 220.07,114.23 220.67,114.13 221.27,114.99 221.87,114 222.47,114.69 223.07,112.5 223.67,114.21 224.27,114.98 224.87,114.29 225.47,114.89 226.07,114.58 226.67,114.82 227.27,115.45 227.87,115.31 228.47,115.91 229.07,114.53 229.67,115.08 230.27,114.98 230.87,115.75 231.47,114.7 232.07,113.38 232.67,113.67 233.27,113.59 233.87,114.57 234.47,114.07 235.07,115.43 235.67,114.95 236.27,115.06 236.87,114.19 237.47,115.52 238.07,114.46 238.67,113.9 239.27,114.18 239.87,114.27 240.47,115.24 241.07,113.81 241.67,114.5 242.27,115.17 242.87,114.55 243.47,114.78 244.07,114.4 244.67,114.02 245.27,114.93 245.87,113.16 246.47,113.77 247.07,114.62 247.67,114.79 248.27,114.98 248.87,114.51 249.47,114.14 250.07,114.91 250.67,114.57 251.27,114.48 251.87,114.17 252.47,114.68 253.07,114.97 253.67,115.18 254.27,114.31 254.87,114.08 255.47,114.61 256.07,114.79 256.67,114.68 257.27,113.57 257.87,113.59 258.47,114.62 259.07,114.02 259.67,114.43 260.27,114.97 260.87,113.19 261.47,113.42 262.07,114.44 262.67,114.4 263.27,112.76 263.87,115.13 264.47,115.85 265.07,113.4 265.67,114.14 266.27,114.69 266.87,114.42 267.47,113.34 268.07,114.43 268.67,114.3 269.27,113.8 269.87,115.05 270.47,114.57 271.07,114.38 271.67,113.54 272.27,114.34 272.87,115.02 273.47,114.03 274.07,113.22 274.67,113.77 275.27,114.42 275.87,114.55 276.47,111.82 277.07,113.64 277.67,113.98 278.27,114.7 278.87,112.98 279.47,114.35 280.07,112.33 280.67,113.55 281.27,113.48 281.87,112.88 282.47,113.83 283.07,113.83 283.67,113.54 284.27,113.93 284.87,114.49 285.47,114.51 286.07,114.1 286.67,114.32 287.27,114.99 287.87,113.93 288.47,115.22 289.07,114.46 289.67,112.9 290.27,114.55 290.87,113.78 291.47,114.11 292.07,114.39 292.67,114.7 293.27,113.93 293.87,113.81 294.47,114.83 295.07,115.03 295.67,113.87 296.27,114.07 296.87,113.42 297.47,114.64 298.07,113.21 298.67,114.23 299.27,113.88 299.87,112.94 300.47,114.33 301.07,114.23 301.67,113.96 302.27,114.8 302.87,114.34 303.47,112.61 304.07,113.5 304.67,114.74 305.27,113.67 305.87,114.09 306.47,113.94 307.07,114.34 307.67,113.95 308.27,113.36 308.87,113.66 309.47,114.22 310.07,115.13 310.67,115.19 311.27,114.05 311.87,113.57 312.47,115.41 313.07,114.06 313.67,114.59 314.27,114.16 314.87,113.61 315.47,113.59 316.07,113.7 316.67,114.1 317.27,114.04 317.87,114.21 318.47,113.48 319.07,113.8 319.67,113.52 320.27,114.27 320.87,115.04 321.47,114.59 322.07,114.52 322.67,113.77 323.27,114.46 323.87,114.43 324.47,114.22 325.07,113.95 325.67,113.9 326.27,114.45 326.87,113.84 327.47,114.84 328.07,113.93 328.67,114.83 329.27,113.89 329.87,112.7 330.47,115.79 331.07,114.5 331.67,114.22 332.27,114.28 332.87,113.99 333.47,113.52 334.07,114.03 334.67,114.29 335.27,113.77 335.87,113.9 336.47,114.62 337.07,113.36 337.67,114.35 338.27,114.07 338.87,114.57 339.47,113.93 340.07,113.91 340.67,114.35 341.27,113.61 341.87,114.35 342.47,115 343.07,114.17 343.67,113.95 344.27,114.74 344.87,114.11 345.47,114.54 346.07,113.2 346.67,113.07 347.27,114.64 347.87,114.35 348.47,114.46 349.07,113.65 349.67,113.76" stroke="#ff0000" stroke-width="1.35" fill="none" stroke-linejoin="round"/>
<polyline points="53.33,139.33 65.33,139.33 65.33,130 66,128.67 66.67,128.53 67.33,128.42 68,128 68.67,126.38 69.33,124.79 70,123.33 70.67,119.52 71.33,116.67 72,114.04 72.67,110 73.33,111.01 74,112 74.67,113.22 75.33,113.2 76,113.33 76.67,112.2 77.33,110.67 78.27,105.33 79.33,107.33 80,108.91 80.67,111.33 81.33,113.24 82,115.33 82.67,117.03 83.33,118.67 84,117.97 84.67,117.33 85.33,116.56 86,116 86.67,115.43 87.33,116.67 88,115.52 88.67,114.67 89.33,113.25 90,112 90.67,113.49 91.33,115.33 92,115.89 92.67,116.05 93.33,117.33 94,116.56 94.67,117.05 95.33,116 95,115.33 95.67,114.97 96.33,115.14 97,115.02 97.67,115.28 98.33,115.14 99,115.33 99.67,116.59 100.33,115.82 101,117.22 101.67,116.94 102.33,117.75 103,118 103.67,119.14 104.33,118.23 105,118.34 105.67,117.31 106.33,118.43 107,118.67 107.67,118.48 108.33,118.51 109,118.44 109.67,117.8 110.33,117.75 111,118 111.67,118.54 112.33,118.35 113,118.7 113.67,119.17 114.33,119.17 115,119.33 115.67,119.41 116.33,118.92 117,119.35 117.67,119.33 118.33,118.56 119,119.84 119.67,118.71 120.33,119.58 121,118.6 121.67,118.67 122.33,118.63 123,119.21 123.67,118.77 124.33,118.76 125,118.58 125.67,118.67 126.33,118.36 127,117.94 127.67,117.71 128.33,117.08 129,117.51 129.67,117.33 130.33,116.81 131,117.47 131.67,117.54 132.33,117.23 133,115.76 133.67,116 134.33,115.76 135,115.74 135.67,115.07 136.33,116.2 137,115.75 137.67,115.33 138.27,115.18 138.87,113.01 139.47,115.82 140.07,114.41 140.67,114 141.27,115.52 141.87,115.06 142.47,114.52 143.07,114.37 143.67,114.35 144.27,116.75 144.87,115.49 145.47,114.78 146.07,115.04 146.67,114.49 147.27,115.42 147.87,114.59 148.47,115.43 149.07,114.89 149.67,115.27 150.27,114.25 150.87,112.67 151.47,115.43 152.07,115.89 152.67,114.86 153.27,113.77 153.87,114.32 154.47,114.66 155.07,114.8 155.67,113.97 156.27,113.81 156.87,114.6 157.47,114 158.07,114.37 158.67,115.05 159.27,114.45 159.87,114.17 160.47,114.76 161.07,115.05 161.67,113.93 162.27,114.96 162.87,113.95 163.47,115.24 164.07,115.43 164.67,115.15 165.27,115.79 165.87,113.89 166.47,114.66 167.07,114.64 167.67,115.78 168.27,114.85 168.87,115.2 169.47,116.2 170.07,114.11 170.67,114.92 171.27,115.42 171.87,115.06 172.47,114.38 173.07,116.81 173.67,115.38 174.27,113.93 174.87,115.83 175.47,115.17 176.07,115.78 176.67,115.7 177.27,115.4 177.87,114.07 178.47,113.87 179.07,114.85 179.67,113.83 180.27,114.65 180.87,114.43 181.47,114.17 182.07,114.89 182.67,114.48 183.27,114.8 183.87,115.34 184.47,114.54 185.07,115.26 185.67,113.61 186.27,114.46 186.87,114.58 187.47,115.36 188.07,114.78 188.67,114.23 189.27,114.8 189.87,114.98 190.47,114.29 191.07,115.29 191.67,114.1 192.27,114.66 192.87,115.97 193.47,115.41 194.07,114.97 194.67,115.28 195.27,116.19 195.87,115.05 196.47,115.55 197.07,115.07 197.67,115.62 198.27,115.33 198.87,115.54 199.47,115.63 200.07,114 200.67,116.03 201.27,113.94 201.87,114.79 202.47,114.41 203.07,114.18 203.67,114.21 204.27,114.36 204.87,113.69 205.47,114.6 206.07,114.95 206.67,115.15 207.27,116.01 207.87,115.56 208.47,114.84 209.07,114.57 209.67,114.26 210.27,114.39 210.87,115.15 211.47,114.67 212.07,114.84 212.67,114.73 213.27,115.03 213.87,115.16 214.47,115.68 215.07,113.97 215.67,114.94 216.27,115.88 216.87,114.56 217.47,114.32 218.07,116.51 218.67,114.37 219.27,115.09 219.87,115.95 220.47,114.71 221.07,115.38 221.67,114.46 222.27,115.08 222.87,115.34 223.47,115.55 224.07,114.9 224.67,115.92 225.27,115.7 225.87,114.94 226.47,115.84 227.07,115.15 227.67,114.57 228.27,115.85 228.87,115.24 229.47,116.54 230.07,116.06 230.67,114.1 231.27,115.18 231.87,115.37 232.47,115.28 233.07,113.1 233.67,115.85 234.27,115.6 234.87,116 235.47,114.47 236.07,115.39 236.67,116.51 237.27,115.19 237.87,115.23 238.47,114.5 239.07,115.11 239.67,115.5 240.27,115.06 240.87,114.58 241.47,114.61 242.07,114.21 242.67,114.39 243.27,115.41 243.87,115.13 244.47,115.6 245.07,114.92 245.67,113.77 246.27,115 246.87,115.09 247.47,114.9 248.07,115.35 248.67,115.25 249.27,115.18 249.87,115.07 250.47,115.28 251.07,114.24 251.67,114.07 252.27,115.24 252.87,117.18 253.47,115.71 254.07,115.68 254.67,115.33 255.27,114.9 255.87,115.03 256.47,115.25 257.07,115.6 257.67,115.57 258.27,114.46 258.87,114.97 259.47,114.01 260.07,112.85 260.67,114.4 261.27,113.98 261.87,115.23 262.47,113.99 263.07,113.42 263.67,113.85 264.27,115.66 264.87,114.21 265.47,115.45 266.07,116.23 266.67,114.92 267.27,115.66 267.87,116.01 268.47,113.98 269.07,115.22 269.67,115.02 270.27,113.84 270.87,115.39 271.47,115.84 272.07,114.61 272.67,113.95 273.27,114.62 273.87,114.56 274.47,114.58 275.07,113.28 275.67,115.57 276.27,114.37 276.87,113.85 277.47,113 278.07,114.17 278.67,114.85 279.27,113.99 279.87,114.89 280.47,113.84 281.07,115.06 281.67,113.55 282.27,114.2 282.87,115.21 283.47,114.28 284.07,115.05 284.67,114.6 285.27,115.25 285.87,114.42 286.47,115.23 287.07,115.64 287.67,114.17 288.27,115.11 288.87,115.03 289.47,115.52 290.07,116.16 290.67,114.96 291.27,114.75 291.87,114.38 292.47,116.75 293.07,114.51 293.67,115.79 294.27,115.14 294.87,115.73 295.47,114.7 296.07,115.5 296.67,115.81 297.27,114.44 297.87,116.63 298.47,115.18 299.07,115.39 299.67,115.64 300.27,114.46 300.87,115.56 301.47,114.28 302.07,114.99 302.67,114.01 303.27,116.5 303.87,114.07 304.47,115.35 305.07,114.63 305.67,113.68 306.27,115.26 306.87,116.13 307.47,113.21 308.07,114.65 308.67,114.38 309.27,114.64 309.87,114.58 310.47,115.26 311.07,114.61 311.67,113.26 312.27,115.41 312.87,115.33 313.47,116.07 314.07,114.4 314.67,114.19 315.27,114.86 315.87,115.35 316.47,116.21 317.07,114.89 317.67,114.73 318.27,115.61 318.87,115.48 319.47,114.43 320.07,113.7 320.67,115.16 321.27,115.02 321.87,114.21 322.47,113.81 323.07,114.63 323.67,115.64 324.27,115.16 324.87,115.81 325.47,114.2 326.07,115.25 326.67,114.99 327.27,114.23 327.87,114.77 328.47,113.22 329.07,113.65 329.67,113.86 330.27,114.25 330.87,113.35 331.47,112.89 332.07,113.9 332.67,114.12 333.27,114.94 333.87,114.18 334.47,112.97 335.07,114.04 335.67,114.55 336.27,114.2 336.87,113.67 337.47,114.48 338.07,114.46 338.67,112.4 339.27,115.94 339.87,112.01 340.47,116.22 341.07,114.69 341.67,115.42 342.27,114.06 342.87,114.41 343.47,114.45 344.07,114.85 344.67,114.52 345.27,113.67 345.87,115.17 346.47,113.31 347.07,113.11 347.67,114.77 348.27,114.93 348.87,114.78 349.47,115.17" stroke="#000000" stroke-width="1.35" fill="none" stroke-linejoin="round"/>
<polyline points="53.33,194.33 54,193.86 54.67,193.39 55.33,192.8 56,191.93 56.67,191.67 57.33,191.01 58,190.69 58.67,189.9 59.33,189.07 60,189 60.67,188.24 61.33,187.57 62,187.01 62.67,186.33 63.33,185.1 64,183.67 64.67,175.67 65.33,165 66,158.33 67.07,155 67.87,154.35 68.67,154.07 69.33,154.05 70,154.33 70.67,156.38 71.33,158.33 72,159.91 72.67,160.85 73.33,162.33 74,163.1 74.67,163.96 75.33,165 76,166.09 76.67,167.41 77.33,168.33 78,169.46 78.67,170.39 79.33,171.67 80,172.07 80.67,173.21 81.33,173.67 82,174.3 82.67,175.16 83.33,175.67 84,176.36 84.67,176.22 85.33,177 86,177.86 86.67,178.39 87.33,179 88,179.31 88.67,179.71 89.33,180.02 90,180.33 90.67,180.42 91.33,180.51 92,180.74 92.67,181 93.33,181.41 94,181.94 94.67,182.46 95.33,183 96,181.4 96.67,179.67 97.33,178.57 98,177.01 98.67,175.67 99,173 99.67,172.74 100.33,172.33 101,172.19 101.67,172.21 102.33,172.95 103,172.66 103.67,172.88 104.33,173 105,173.09 105.67,173.33 106.33,173.5 107,173.16 107.67,173.5 108.33,173.67 109,173.74 109.67,173.44 110.33,173.49 111,173.24 111.67,173 112.33,173.65 113,174.09 113.67,174.56 114.33,175 115,175.07 115.67,176.08 116.33,176.25 117,177 117.67,177.02 118.33,177.38 119,177.27 119.67,176.86 120.33,176.75 121,176.43 121.67,176.33 122.33,176.41 123,176.48 123.67,177.01 124.33,177 125,176.59 125.67,176.34 126.33,176.74 127,176.33 127.67,175.71 128.33,175.47 129,174.95 129.67,174.33 130.33,173.67 131,173.54 131.67,173.22 132.33,172.73 133,172.58 133.67,172.84 134.33,172.45 135,172.33 135.6,172.33 136.2,171.99 136.8,172.62 137.4,171.06 138,172.43 138.6,172.14 139.2,171.38 139.8,171.61 140.4,171.48 141,171.63 141.6,172.15 142.2,171.41 142.8,171.65 143.4,172.2 144,171.82 144.6,171.64 145.2,171.3 145.8,172.27 146.4,172.08 147,171.89 147.6,172.54 148.2,172.8 148.8,171.92 149.4,171.98 150,170.84 150.6,171.63 151.2,171.97 151.8,171.97 152.4,172.02 153,172.24 153.6,173.74 154.2,171.84 154.8,171.7 155.4,172.66 156,172.37 156.6,172.05 157.2,172.23 157.8,172.38 158.4,172.89 159,172.72 159.6,172.76 160.2,172.53 160.8,172.89 161.4,171.9 162,172 162.6,171.75 163.2,173.13 163.8,172.69 164.4,172.74 165,172.7 165.6,172.12 166.2,172.74 166.8,172.17 167.4,171.57 168,172.4 168.6,171.1 169.2,171.9 169.8,172.94 170.4,170.9 171,171.99 171.6,170.91 172.2,171.15 172.8,171.17 173.4,171.53 174,171.96 174.6,171.56 175.2,171.16 175.8,170.63 176.4,170.69 177,172.01 177.6,171.57 178.2,171.15 178.8,171.25 179.4,171.04 180,170.42 180.6,170.58 181.2,170.76 181.8,171.05 182.4,171.08 183,171.21 183.6,171.16 184.2,171.48 184.8,171.62 185.4,171.97 186,171.93 186.6,172.4 187.2,171.19 187.8,171.5 188.4,171.66 189,170.81 189.6,172.22 190.2,172.22 190.8,171.59 191.4,170.85 192,172.61 192.6,171.69 193.2,172.17 193.8,172.71 194.4,171.77 195,171.28 195.6,171.69 196.2,172.1 196.8,171.41 197.4,171.42 198,171.15 198.6,170.39 199.2,170.8 199.8,171.63 200.4,170.83 201,171.04 201.6,170.77 202.2,171.37 202.8,171.21 203.4,171.25 204,171.08 204.6,170.99 205.2,171.47 205.8,172.14 206.4,171.45 207,170.78 207.6,169.89 208.2,171.12 208.8,170.43 209.4,170.71 210,171.95 210.6,171.06 211.2,171.04 211.8,171.73 212.4,170.62 213,171.32 213.6,171.7 214.2,171.4 214.8,172.03 215.4,171.74 216,170.79 216.6,170.79 217.2,171.65 217.8,171.55 218.4,171.79 219,171.21 219.6,171.09 220.2,171.19 220.8,171.22 221.4,172.35 222,170.68 222.6,171.69 223.2,171.59 223.8,171.93 224.4,171.79 225,171.45 225.6,172.14 226.2,172.1 226.8,171.6 227.4,170.93 228,171.4 228.6,172.55 229.2,171.35 229.8,171.16 230.4,172.22 231,171 231.6,171.06 232.2,171.45 232.8,170.91 233.4,171.28 234,171.89 234.6,170.91 235.2,171.13 235.8,171.53 236.4,169.98 237,171.43 237.6,170.99 238.2,170.59 238.8,171.72 239.4,170.59 240,171.16 240.6,170.49 241.2,171.04 241.8,170.62 242.4,170.41 243,170.69 243.6,170.44 244.2,169.89 244.8,170 245.4,171.22 246,170.28 246.6,170.71 247.2,171.18 247.8,171.45 248.4,171.36 249,171.17 249.6,171.84 250.2,170.79 250.8,171.12 251.4,170.82 252,170.1 252.6,171.49 253.2,170.27 253.8,170.7 254.4,171.55 255,171.54 255.6,171.13 256.2,171.97 256.8,170.95 257.4,171.66 258,171.44 258.6,170.61 259.2,171.14 259.8,170.76 260.4,170.42 261,169.87 261.6,170.83 262.2,171.38 262.8,171.06 263.4,171.53 264,170.23 264.6,171.33 265.2,171.98 265.8,171.34 266.4,171.51 267,171.57 267.6,170.53 268.2,171.32 268.8,171.91 269.4,172.62 270,170.99 270.6,171.47 271.2,171.77 271.8,171.37 272.4,171.27 273,170.32 273.6,171.44 274.2,171.07 274.8,172.16 275.4,171.65 276,171.92 276.6,171.66 277.2,172.53 277.8,171.05 278.4,171.58 279,171.35 279.6,171.61 280.2,171.83 280.8,171.49 281.4,171.62 282,170.94 282.6,170.99 283.2,172.13 283.8,171.4 284.4,171.56 285,171.29 285.6,171.73 286.2,172.61 286.8,171.55 287.4,170.74 288,170.31 288.6,170.66 289.2,171.56 289.8,171.06 290.4,170.37 291,171.08 291.6,171.38 292.2,172.14 292.8,171.59 293.4,170.66 294,171.31 294.6,170.64 295.2,171.04 295.8,171.62 296.4,171.37 297,171.48 297.6,170.62 298.2,171.18 298.8,171.5 299.4,171.33 300,171.05 300.6,170.77 301.2,171.43 301.8,171.68 302.4,170.84 303,171.97 303.6,171.67 304.2,171.25 304.8,171.25 305.4,172.27 306,170.99 306.6,171.58 307.2,171.47 307.8,171.05 308.4,171.43 309,170.58 309.6,170.34 310.2,171.92 310.8,171.82 311.4,170.98 312,170.23 312.6,171.83 313.2,171.48 313.8,171.06 314.4,170.84 315,170.61 315.6,170.22 316.2,170.12 316.8,171.7 317.4,170.23 318,171.65 318.6,171.49 319.2,170.95 319.8,170.86 320.4,170.58 321,170 321.6,170.47 322.2,170.88 322.8,171.37 323.4,171.18 324,171.98 324.6,171.72 325.2,170.19 325.8,171.52 326.4,170.57 327,171.69 327.6,170.92 328.2,171.76 328.8,171.59 329.4,171.52 330,171.59 330.6,171.42 331.2,171.65 331.8,171.41 332.4,171.59 333,171.77 333.6,172 334.2,171.39 334.8,171.66 335.4,172.41 336,172.02 336.6,170.57 337.2,171.53 337.8,171.71 338.4,170.97 339,171.04 339.6,170.39 340.2,170.74 340.8,170.56 341.4,170.87 342,170.41 342.6,170.33 343.2,171.01 343.8,171.84 344.4,171.63 345,169.99 345.6,170.54 346.2,170.94 346.8,170.98 347.4,170.08 348,170.68 348.6,170.56 349.2,170.59 349.8,170.19" stroke="#0000ff" stroke-width="1.35" fill="none" stroke-linejoin="round"/>
<polyline points="59.6,194.33 59.6,159.93 60.4,174.33 61.33,181 62.67,183.4 64.4,184.33 65.33,184.33" stroke="#ff0000" stroke-width="1.35" fill="none" stroke-linejoin="round"/>
<polyline points="53.33,194.33 65.33,194.33 65.33,184.33 66,184.14 66.67,184.33 67.33,183.83 68,183.69 68.67,183 69.33,181.87 70,181 70.67,179.64 71.33,179 72,177.87 72.67,177 73.33,176.29 74,175.67 74.67,174.98 75.33,175.02 76,175 76.67,174.3 77.33,173 78,172.14 78.67,171.67 79.33,171.68 80,172.33 80.67,173.84 81.33,173.81 82,173.67 82.67,172.91 83.33,171.67 84,169.55 84.67,168.33 85.33,167.49 86,166.87 86.67,165.67 87.33,165.78 88,164.85 88.67,164.33 89.33,164.79 90,165.1 90.67,165.67 91.33,166.63 92,166.51 92.67,167 93.33,168.31 94,167.24 94.67,168.33 95.33,169.38 96,168.93 96.67,170.33 97.33,170.31 98,171.86 98.67,171.67 98.06,170.71 97.44,170.09 96.83,169.01 96.22,169.93 95.61,168.81 95,167.67 95.67,168.51 96.33,169.67 97,170.31 97.67,170.97 98.33,171.67 99,171.37 99.67,172.92 100.33,172.73 101,172.61 101.67,171.72 102.33,173.14 103,173 103.67,173.85 104.33,172.59 105,172.45 105.67,173.2 106.33,172.9 107,173 107.67,171.61 108.33,171.73 109,172.56 109.67,171.47 110.33,171.63 111,171.67 111.67,171.77 112.33,172.1 113,171.61 113.67,173.25 114.33,172.05 115,171.67 115.67,171.73 116.33,171.96 117,172.64 117.67,171.44 118.33,171.25 119,171.67 119.67,171.98 120.33,171.51 121,170.65 121.67,170.33 122.33,169.21 123,169.5 123.67,168.61 124.33,169 125,170.13 125.67,169.51 126.33,169.73 127,169.67 127.67,169.54 128.33,168.72 129,171.06 129.67,171.11 130.33,170.07 131,170.33 131.67,170.62 132.33,170.29 133,171.39 133.67,170.06 134.33,171.26 135,171 135.67,172.07 136.33,171.31 137,169.62 137.67,170.86 138.33,170.44 139,170.98 139.67,171.29 140.33,170.33 140.93,170.73 141.53,170.32 142.13,170.34 142.73,170.71 143.33,170.94 143.93,169.89 144.53,168.85 145.13,170.9 145.73,169.28 146.33,172.42 146.93,171.56 147.53,171.67 148.13,170.71 148.73,170.51 149.33,172 149.93,171.52 150.53,169.94 151.13,170.83 151.73,170.41 152.33,170.53 152.93,169.12 153.53,169.8 154.13,169.8 154.73,171.56 155.33,170.49 155.93,169.43 156.53,171.08 157.13,169.58 157.73,168.98 158.33,169.59 158.93,170.66 159.53,170.51 160.13,169.6 160.73,168.04 161.33,170.86 161.93,169.23 162.53,170.35 163.13,171.61 163.73,170.1 164.33,168.75 164.93,170.67 165.53,169.34 166.13,171.05 166.73,169.07 167.33,169.08 167.93,170.22 168.53,168.88 169.13,170.16 169.73,170.57 170.33,171.09 170.93,168.92 171.53,169.44 172.13,169.57 172.73,168.67 173.33,170.42 173.93,169.04 174.53,169.15 175.13,169.87 175.73,169.97 176.33,170.75 176.93,170.85 177.53,171.6 178.13,171.06 178.73,169.81 179.33,170.75 179.93,170.96 180.53,170.94 181.13,169.83 181.73,170.02 182.33,169.12 182.93,169.34 183.53,170.09 184.13,170.01 184.73,168.92 185.33,170.89 185.93,170.79 186.53,170.06 187.13,171.32 187.73,169.84 188.33,171.17 188.93,169.49 189.53,169.18 190.13,169.55 190.73,170.12 191.33,170.94 191.93,171.19 192.53,170.41 193.13,170.6 193.73,168.46 194.33,171.1 194.93,170.11 195.53,170.2 196.13,170.24 196.73,169.38 197.33,172.01 197.93,169.71 198.53,170.76 199.13,169.37 199.73,170.89 200.33,170.93 200.93,168.46 201.53,170.46 202.13,170.4 202.73,170.88 203.33,167.18 203.93,170.15 204.53,167.3 205.13,168.42 205.73,170.61 206.33,169.12 206.93,168.88 207.53,170.83 208.13,170.22 208.73,170.32 209.33,169.72 209.93,169.64 210.53,169.66 211.13,169.62 211.73,169.13 212.33,169.44 212.93,169.42 213.53,170.03 214.13,168.37 214.73,171.13 215.33,168.37 215.93,169.13 216.53,170.44 217.13,168.77 217.73,169.27 218.33,170.22 218.93,169.53 219.53,170.51 220.13,170.3 220.73,171.76 221.33,170.12 221.93,170.76 222.53,168.69 223.13,170.79 223.73,168.93 224.33,169.8 224.93,170.42 225.53,168.54 226.13,169.47 226.73,168.56 227.33,171.45 227.93,168.26 228.53,169.95 229.13,171.06 229.73,168.97 230.33,170.32 230.93,169.8 231.53,170.34 232.13,170.39 232.73,170.13 233.33,170.54 233.93,169.48 234.53,170.22 235.13,169.49 235.73,169.66 236.33,170.21 236.93,169.48 237.53,169.77 238.13,169.07 238.73,170.76 239.33,170.81 239.93,169.06 240.53,169.08 241.13,170.15 241.73,171.96 242.33,169.89 242.93,170.19 243.53,170.2 244.13,170.15 244.73,169.22 245.33,170.17 245.93,168.69 246.53,170.38 247.13,170.31 247.73,170.64 248.33,169.51 248.93,168.68 249.53,170.92 250.13,171.63 250.73,168.22 251.33,170.2 251.93,168.27 252.53,169.83 253.13,169.31 253.73,169.01 254.33,169.84 254.93,170.42 255.53,169.64 256.13,168.75 256.73,170.13 257.33,169.28 257.93,169.36 258.53,169.78 259.13,170.17 259.73,170.78 260.33,171.65 260.93,170.15 261.53,170.31 262.13,169.05 262.73,169.09 263.33,170.51 263.93,169.06 264.53,170.65 265.13,171.53 265.73,169.83 266.33,170.79 266.93,168.89 267.53,170.37 268.13,168.73 268.73,170.77 269.33,169.37 269.93,169.82 270.53,170.36 271.13,169.31 271.73,170.94 272.33,170.65 272.93,171.21 273.53,169.68 274.13,169.53 274.73,168.92 275.33,171 275.93,170.67 276.53,169.19 277.13,169.39 277.73,170.76 278.33,170.01 278.93,169.97 279.53,170.28 280.13,167.84 280.73,170.01 281.33,169.95 281.93,169.59 282.53,168.86 283.13,170.34 283.73,170.01 284.33,170.22 284.93,168.74 285.53,170.36 286.13,170.54 286.73,169.04 287.33,169.07 287.93,170.42 288.53,170.48 289.13,167.75 289.73,169.94 290.33,169.47 290.93,170.05 291.53,169.71 292.13,170.63 292.73,170.3 293.33,170.4 293.93,171.75 294.53,168.95 295.13,170.9 295.73,168.71 296.33,169.31 296.93,169.5 297.53,169.49 298.13,168.36 298.73,170.37 299.33,170.15 299.93,168.65 300.53,170.14 301.13,169.89 301.73,170.25 302.33,168.34 302.93,169.64 303.53,169.34 304.13,170.07 304.73,169.96 305.33,168.98 305.93,167.58 306.53,170.29 307.13,168.98 307.73,167.27 308.33,169.63 308.93,170.64 309.53,169.99 310.13,169.68 310.73,170.17 311.33,168.5 311.93,169.65 312.53,168.93 313.13,168.74 313.73,169 314.33,170.44 314.93,168.75 315.53,167.91 316.13,169.43 316.73,169.78 317.33,168.38 317.93,169.85 318.53,169.66 319.13,169.14 319.73,169.41 320.33,170.18 320.93,168.76 321.53,170.67 322.13,168.63 322.73,171.04 323.33,168.95 323.93,170.93 324.53,170.19 325.13,169.85 325.73,169.11 326.33,169.7 326.93,169.68 327.53,169.9 328.13,171.04 328.73,169.65 329.33,170.6 329.93,170.62 330.53,169.14 331.13,169.63 331.73,168.72 332.33,169.31 332.93,170.55 333.53,169.97 334.13,168.23 334.73,170.26 335.33,170.57 335.93,170.66 336.53,168.72 337.13,170.62 337.73,170.47 338.33,169.28 338.93,170.22 339.53,170.44 340.13,169.77 340.73,169.57 341.33,169.66 341.93,169.85 342.53,170.8 343.13,169.88 343.73,169.88 344.33,169.92 344.93,168.68 345.53,170.3 346.13,170.16 346.73,167.51 347.33,167.92 347.93,170.83 348.53,169.69 349.13,168.66 349.73,169.11" stroke="#000000" stroke-width="1.35" fill="none" stroke-linejoin="round"/>
<polyline points="53.2,250.47 53.2,222.95 53.2,222.95 53.27,222.81 53.36,222.61 53.47,222.39 53.59,222.14 53.71,221.89 53.84,221.67 53.96,221.46 54.08,221.26 54.2,221.07 54.34,220.86 54.5,220.64 54.69,220.39 54.91,220.13 55.14,219.88 55.4,219.61 55.69,219.3 56.02,218.93 56.4,218.47 56.85,217.88 57.36,217.18 57.91,216.41 58.48,215.63 59.05,214.88 59.6,214.2 60.13,213.59 60.67,213 61.2,212.44 61.73,211.92 62.27,211.43 62.8,211 63.33,210.62 63.87,210.29 64.4,210 64.93,209.74 65.47,209.51 66,209.29 66.55,209.09 67.11,208.91 67.67,208.76 68.21,208.63 68.73,208.52 69.2,208.44 69.6,208.38 69.95,208.35 70.27,208.33 70.58,208.35 70.93,208.38 71.33,208.44 71.8,208.52 72.32,208.63 72.87,208.76 73.43,208.91 73.99,209.09 74.53,209.29 75.05,209.51 75.56,209.74 76.07,210 76.59,210.29 77.14,210.62 77.73,211 78.38,211.45 79.08,211.96 79.8,212.51 80.54,213.08 81.28,213.65 82,214.2 82.69,214.71 83.34,215.19 84,215.67 84.69,216.18 85.43,216.74 86.27,217.4 87.21,218.18 88.24,219.06 89.33,220 90.45,220.96 91.58,221.88 92.67,222.73 93.73,223.52 94.8,224.27 95.87,225 96.93,225.7 98,226.36 99.07,227 100.15,227.61 101.27,228.18 102.38,228.73 103.47,229.25 104.51,229.74 105.47,230.2 106.24,230.59 106.84,230.91 107.38,231.2 108,231.51 108.83,231.89 110,232.4 111.57,233.07 113.45,233.86 115.53,234.72 117.72,235.61 119.91,236.45 122,237.2 124,237.86 126,238.49 128,239.07 130,239.62 132,240.13 134,240.6 136,241.02 138,241.4 140,241.74 142,242.05 144,242.33 146,242.6 147.92,242.84 149.74,243.05 151.56,243.23 153.48,243.4 155.59,243.55 158,243.7 160.72,243.85 163.67,243.98 166.81,244.11 170.11,244.22 173.52,244.32 177,244.4 180.41,244.46 183.74,244.51 187.19,244.54 190.93,244.56 195.14,244.58 200,244.6 204.87,244.62 209.48,244.63 214.57,244.64 220.86,244.64 229.09,244.65 240,244.65 255.55,244.65 275.54,244.65 297.48,244.65 318.85,244.65 337.18,244.65 349.95,244.65" stroke="#0000ff" stroke-width="1.35" fill="none" stroke-linejoin="round"/>
<polyline points="59.39,250.27 59.39,215.07 59.39,215.07 59.75,215.3 60.24,215.62 60.83,216 61.47,216.41 62.14,216.82 62.8,217.2 63.46,217.56 64.16,217.91 64.88,218.27 65.61,218.62 66.35,218.98 67.07,219.33 67.75,219.69 68.41,220.04 69.07,220.4 69.75,220.76 70.5,221.11 71.33,221.47 72.28,221.83 73.31,222.2 74.4,222.57 75.52,222.94 76.64,223.28 77.73,223.6 78.8,223.88 79.87,224.14 80.93,224.37 82,224.6 83.07,224.84 84.13,225.09 85.2,225.36 86.27,225.63 87.33,225.91 88.4,226.19 89.47,226.49 90.53,226.8 91.58,227.12 92.59,227.46 93.6,227.8 94.64,228.16 95.74,228.54 96.93,228.93 98.28,229.38 99.77,229.87 101.32,230.37 102.84,230.87 104.25,231.32 105.47,231.71 106.37,231.98 107,232.17 107.52,232.31 108.08,232.46 108.86,232.67 110,233 111.57,233.46 113.45,234.03 115.53,234.65 117.72,235.3 119.91,235.93 122,236.5 124,237.03 126,237.54 128,238.04 130,238.51 132,238.97 134,239.4 136,239.8 138,240.19 140,240.54 142,240.88 144,241.2 146,241.5 147.92,241.77 149.74,242.01 151.56,242.24 153.48,242.45 155.59,242.67 158,242.9 160.72,243.15 163.67,243.41 166.81,243.68 170.11,243.94 173.52,244.18 177,244.4 180.52,244.59 184.11,244.77 187.81,244.93 191.67,245.07 195.72,245.19 200,245.3 203.55,245.39 206.15,245.45 208.94,245.5 213.08,245.54 219.71,245.57 230,245.6 246.17,245.63 267.76,245.65 291.85,245.67 315.52,245.68 335.86,245.69 349.95,245.7" stroke="#ff0000" stroke-width="1.35" fill="none" stroke-linejoin="round"/>
<polyline points="53.2,250.37 65.36,250.37 65.36,214.1 65.36,214.1 65.75,214.25 66.26,214.44 66.88,214.67 67.59,214.95 68.37,215.25 69.2,215.59 70.12,215.98 71.14,216.42 72.24,216.9 73.37,217.39 74.5,217.89 75.6,218.37 76.67,218.83 77.73,219.3 78.8,219.77 79.87,220.23 80.93,220.69 82,221.14 83.07,221.57 84.13,221.99 85.2,222.39 86.27,222.81 87.33,223.24 88.4,223.7 89.47,224.2 90.53,224.74 91.6,225.29 92.67,225.84 93.73,226.38 94.8,226.9 95.89,227.4 97.01,227.9 98.13,228.38 99.22,228.84 100.26,229.28 101.2,229.67 102.03,230.02 102.77,230.31 103.45,230.57 104.1,230.83 104.76,231.09 105.47,231.38 106.12,231.67 106.68,231.93 107.25,232.21 107.93,232.52 108.81,232.91 110,233.4 111.57,234.03 113.45,234.79 115.53,235.62 117.72,236.47 119.91,237.28 122,238 124,238.64 126,239.26 128,239.83 130,240.37 132,240.86 134,241.3 136,241.69 138,242.01 140,242.3 142,242.55 144,242.78 146,243 147.92,243.2 149.74,243.36 151.56,243.51 153.48,243.64 155.59,243.77 158,243.9 160.72,244.04 163.67,244.19 166.81,244.34 170.11,244.47 173.52,244.6 177,244.7 180.41,244.78 183.74,244.84 187.19,244.89 190.93,244.93 195.14,244.97 200,245 204.87,245.03 209.48,245.05 214.57,245.07 220.86,245.08 229.09,245.09 240,245.1 255.55,245.11 275.54,245.11 297.48,245.11 318.85,245.1 337.18,245.1 349.95,245.1" stroke="#000000" stroke-width="1.35" fill="none" stroke-linejoin="round"/>
<polyline points="53.2,304.87 53.2,276.07 53.27,275.35 53.36,274.33 53.47,273.13 53.59,271.88 53.71,270.68 53.84,269.67 53.97,268.8 54.1,267.99 54.24,267.24 54.39,266.55 54.54,265.94 54.69,265.4 54.86,264.95 55.03,264.59 55.21,264.29 55.4,264.06 55.58,263.86 55.76,263.69 55.93,263.55 56.1,263.43 56.27,263.36 56.44,263.34 56.62,263.37 56.83,263.48 57.04,263.64 57.26,263.84 57.49,264.09 57.74,264.43 58.02,264.86 58.32,265.4 58.66,266.09 59.03,266.93 59.43,267.87 59.84,268.84 60.25,269.82 60.67,270.73 61.07,271.6 61.48,272.47 61.89,273.33 62.32,274.19 62.76,275.03 63.23,275.85 63.72,276.67 64.25,277.47 64.79,278.27 65.34,279.05 65.89,279.81 66.43,280.55 66.94,281.26 67.44,281.95 67.93,282.61 68.45,283.27 69.01,283.93 69.63,284.6 70.3,285.29 71.02,285.98 71.77,286.68 72.57,287.37 73.42,288.03 74.32,288.65 75.29,289.25 76.33,289.83 77.41,290.38 78.52,290.91 79.63,291.4 80.72,291.85 81.79,292.26 82.85,292.63 83.92,292.97 84.99,293.28 86.05,293.58 87.12,293.88 88.19,294.18 89.25,294.46 90.32,294.73 91.39,294.99 92.45,295.24 93.52,295.48 94.59,295.71 95.65,295.94 96.72,296.15 97.79,296.36 98.85,296.56 99.92,296.76 100.99,296.96 102.08,297.16 103.16,297.36 104.23,297.54 105.29,297.72 106.32,297.89 107.29,298.03 108.19,298.15 109.08,298.26 109.99,298.38 110.98,298.51 112.08,298.68 113.3,298.89 114.62,299.14 116,299.41 117.44,299.68 118.91,299.94 120.4,300.17 122.04,300.39 123.86,300.6 125.72,300.8 127.46,300.98 128.94,301.13 130,301.24 131,301.28 133,301.34 135,301.19 137,301.49 139,301.45 141,301.33 143,301.31 145,301.36 147,301.76 149,301.45 151,301.47 153,301.66 155,301.55 157,301.33 159,301.52 161,301.45 163,301.39 165,301.58 167,301.4 169,301.59 171,301.77 173,301.65 175,301.89 177,301.97 179,302.12 181,301.58 183,301.61 185,301.96 187,301.74 189,301.98 191,302 193,302.2 195,302.13 197,301.96 199,301.83 201,301.79 203,301.57 205,301.43 207,301.36 209,301.48 211,301.53 213,301.29 215,301.46 217,301.44 219,301.26 221,301.14 223,301.56 225,301.24 227,301.38 229,301.35 231,301.07 233,301.37 235,301.46 237,301.3 239,301.37 241,301.28 243,301.25 245,301.53 247,301.19 249,300.99 251,301.49 253,301.43 255,301.62 257,301.69 259,301.53 261,301.84 263,301.93 265,301.76 267,301.73 269,301.82 271,301.78 273,301.63 275,301.85 277,301.72 279,301.97 281,301.69 283,301.94 285,301.81 287,301.49 289,301.98 291,301.73 293,301.82 295,301.87 297,301.72 299,301.6 301,301.62 303,301.53 305,301.49 307,301.52 309,301.44 311,301.63 313,301.43 315,301.26 317,301.27 319,301.55 321,301.73 323,301.54 325,301.75 327,301.51 329,301.5 331,301.69 333,301.62 335,302.16 337,301.94 339,301.68 341,302.12 343,301.93 345,301.7 347,301.99 349,302.13" stroke="#0000ff" stroke-width="1.35" fill="none" stroke-linejoin="round"/>
<polyline points="59.39,304.87 59.39,285.45 59.95,285.7 60.73,286.04 61.65,286.45 62.67,286.89 63.71,287.35 64.72,287.8 65.72,288.26 66.77,288.74 67.85,289.25 68.95,289.75 70.04,290.24 71.12,290.7 72.19,291.13 73.25,291.55 74.32,291.95 75.39,292.35 76.45,292.74 77.52,293.13 78.59,293.53 79.65,293.94 80.72,294.34 81.79,294.73 82.85,295.11 83.92,295.48 84.99,295.83 86.05,296.18 87.12,296.51 88.19,296.82 89.25,297.12 90.32,297.4 91.39,297.65 92.45,297.88 93.52,298.09 94.59,298.29 95.65,298.48 96.72,298.68 97.76,298.88 98.77,299.07 99.77,299.26 100.81,299.44 101.92,299.63 103.12,299.81 104.44,300 105.87,300.2 107.36,300.39 108.88,300.58 110.39,300.75 111.87,300.9 113.29,301.03 114.69,301.14 116.08,301.23 117.48,301.31 118.92,301.39 120.4,301.45 122.05,301.51 123.88,301.56 125.73,301.59 127.47,301.62 128.94,301.65 130,301.67 131,301.48 133,301.63 135,301.56 137,301.45 139,301.81 141,301.46 143,301.16 145,301.24 147,301.7 149,301.61 151,301.38 153,301.53 155,301.63 157,301.38 159,301.57 161,301.48 163,301.65 165,301.4 167,301.85 169,301.79 171,301.84 173,301.42 175,301.61 177,301.51 179,301.76 181,301.9 183,302.17 185,301.98 187,302.05 189,302.21 191,302.06 193,301.7 195,301.64 197,301.69 199,301.62 201,301.81 203,301.98 205,301.68 207,302.02 209,301.72 211,301.85 213,301.71 215,302 217,301.94 219,302.01 221,301.84 223,302.06 225,301.96 227,301.99 229,301.82 231,301.82 233,301.88 235,301.84 237,301.96 239,301.79 241,301.46 243,301.4 245,301.61 247,301.55 249,301.44 251,301.57 253,301.52 255,301.53 257,301.62 259,301.46 261,301.5 263,301.46 265,301.45 267,301.55 269,301.38 271,301.32 273,301.15 275,301.53 277,301.53 279,301.59 281,301.51 283,301.58 285,301.21 287,301.56 289,300.99 291,301.24 293,301.45 295,301.65 297,301.72 299,301.74 301,301.9 303,301.88 305,301.85 307,302 309,301.7 311,302.26 313,302.12 315,302.36 317,302.14 319,302.25 321,301.89 323,302.08 325,302.07 327,301.95 329,302.02 331,302 333,301.99 335,302 337,301.93 339,302.14 341,301.79 343,301.71 345,302.07 347,301.58 349,301.77" stroke="#ff0000" stroke-width="1.35" fill="none" stroke-linejoin="round"/>
<polyline points="53.2,304.87 65.36,304.87 65.36,287.37 65.82,287.69 66.45,288.13 67.2,288.64 68.01,289.19 68.84,289.73 69.63,290.21 70.39,290.63 71.18,291.02 71.99,291.4 72.79,291.78 73.57,292.18 74.32,292.6 75.02,293.07 75.66,293.57 76.29,294.09 76.94,294.6 77.62,295.07 78.37,295.48 79.2,295.83 80.08,296.13 81,296.39 81.95,296.63 82.93,296.86 83.92,297.08 84.94,297.3 85.99,297.49 87.07,297.68 88.16,297.85 89.24,298.03 90.32,298.21 91.39,298.4 92.45,298.6 93.52,298.79 94.59,298.98 95.65,299.16 96.72,299.32 97.76,299.46 98.77,299.58 99.77,299.69 100.81,299.8 101.92,299.9 102.52,299.79 103.12,300 103.78,300.03 104.44,300.11 105.16,300 105.87,300.21 106.61,300.23 107.36,300.3 108.12,300.22 108.88,300.4 109.64,300.54 110.39,300.5 111.13,300.57 111.87,300.6 112.58,300.59 113.29,300.71 113.99,300.72 114.69,300.82 115.38,300.82 116.08,300.93 116.78,301.1 117.48,301.04 118.2,301.15 118.92,301.15 119.66,301.27 120.4,301.24 121.22,301.03 122.05,301.33 122.66,301.44 123.27,301.37 123.88,301.41 124.5,301.39 125.11,301.3 125.73,301.49 126.6,301.67 127.47,301.56 128.21,301.78 128.94,301.62 130,301.67 131,301.78 132,301.54 133,301.99 134,302.25 135,301.76 136,301.83 137,302.15 138,301.74 139,301.63 140,301.98 141,302.14 142,302.09 143,301.73 144,301.9 145,302.03 146,301.57 147,301.77 148,301.77 149,301.73 150,301.88 151,301.84 152,301.53 153,301.97 154,301.34 155,301.41 156,301.36 157,301.78 158,301.15 159,301.28 160,301.41 161,301.59 162,301.36 163,301.12 164,301.25 165,301.15 166,301.15 167,301.6 168,301.2 169,301.45 170,301.82 171,301.54 172,301.56 173,301.66 174,302.48 175,301.96 176,301.22 177,301.84 178,301.67 179,302.18 180,302.18 181,301.95 182,302 183,301.8 184,301.2 185,301.59 186,300.95 187,301.09 188,301.38 189,301.58 190,301.16 191,301.9 192,301.4 193,301.18 194,301.5 195,301.01 196,301.77 197,301.33 198,301.51 199,301.74 200,301.35 201,301.51 202,301.52 203,301.69 204,301.76 205,301.84 206,301.84 207,301.58 208,301.62 209,301.5 210,301.38 211,302.24 212,301.82 213,301.75 214,301.88 215,301.85 216,301.78 217,301.97 218,302.05 219,301.82 220,301.41 221,301.79 222,301.52 223,301.38 224,301.68 225,301.73 226,301.67 227,301.54 228,302.07 229,301.24 230,301.34 231,301.42 232,301.65 233,301.35 234,301.21 235,301.37 236,301.64 237,301.02 238,301.42 239,301.27 240,300.97 241,301.54 242,301.48 243,301.74 244,301.49 245,301.64 246,301.54 247,301.65 248,301.23 249,301.14 250,301.37 251,301.17 252,301.44 253,301.79 254,301.21 255,301.6 256,301.47 257,301.37 258,301.54 259,301.57 260,301.49 261,301.67 262,301.67 263,301.47 264,301.82 265,301.53 266,302.02 267,301.86 268,302.03 269,301.97 270,301.77 271,301.96 272,301.92 273,302.16 274,302.39 275,301.76 276,301.68 277,301.39 278,301.92 279,301.6 280,301.67 281,301.45 282,301.57 283,301.98 284,301.36 285,301.24 286,301.26 287,301.63 288,301.59 289,300.88 290,301.38 291,301.68 292,301.69 293,301.81 294,302.08 295,301.74 296,301.73 297,301.87 298,301.94 299,301.76 300,301.78 301,301.66 302,301.71 303,301.8 304,302.37 305,301.91 306,301.65 307,301.42 308,301.88 309,301.96 310,301.9 311,302.15 312,301.43 313,301.74 314,301.65 315,301.04 316,301.33 317,301.48 318,301.62 319,301.54 320,301.94 321,301.64 322,301.7 323,301.73 324,301.69 325,302.01 326,302.29 327,301.94 328,302.36 329,302.25 330,301.74 331,301.58 332,301.85 333,301.53 334,301.21 335,301.35 336,301.4 337,301.15 338,301.68 339,301.66 340,301.74 341,301.62 342,301.85 343,301.85 344,301.67 345,301.85 346,301.99 347,302.05 348,301.25 349,301.85" stroke="#000000" stroke-width="1.35" fill="none" stroke-linejoin="round"/>
<polyline points="53.33,360.67 54,360.35 54.67,359.83 55.33,359.47 56.2,358.93 57.07,358.53 57.69,358.07 58.31,357.96 58.93,357.6 59.6,357.32 60.27,357.04 60.93,356.59 61.6,356.27 62.27,355.92 62.93,355.2 63.87,352.93 64.4,348.53 64.93,340.67 65.73,329.47 66.6,322.27 67.47,319.87 68.2,319.5 68.93,319.33 69.6,319.83 70.27,320 71.33,323.33 72,324.55 72.67,326.21 73.33,327.33 74,328.82 74.67,329.86 75.33,331.33 76,332.53 76.67,333.41 77.33,334.67 78,335.83 78.67,336.61 79.33,337.33 80,338.02 80.67,338.72 81.33,339.33 82,340 82.67,340.6 83.33,341.18 84,342 84.67,342.49 85.33,343.16 86,343.55 86.67,344 87.33,344.51 88,344.82 88.67,345.09 89.33,345.33 90,345.47 90.67,345.73 91.33,346.08 92,346.08 92.67,346.67 93.33,346.94 94,347.68 94.67,348.37 95.33,348.67 96,347.67 96.67,346 97.33,344.36 98,342.67 98.67,341.93 99.33,340.94 100,340 99,338.67 99.67,337.87 100.33,337.33 101,337.58 101.67,337.56 102.33,337.76 103,337.51 103.67,337.84 104.33,338 105,338.26 105.67,338.19 106.33,338.34 107,338.58 107.67,338.78 108.33,338.67 109,338.98 109.67,338.92 110.33,338.92 111,339.26 111.67,339.13 112.33,339.33 113,339.66 113.67,340.22 114.33,340.83 115,341.33 115.67,341.56 116.33,341.88 117,342.48 117.67,342.67 118.33,342.39 119,342.27 119.67,342.35 120.33,342.32 121,342.04 121.67,342 122.33,341.86 123,342.37 123.67,341.94 124.33,342.41 125,341.9 125.67,342 126.33,341.7 127,340.82 127.67,340.75 128.33,340 129,339.59 129.67,339.05 130.33,338.42 131,338 131.67,338.08 132.33,337.87 133,337.52 133.67,337.33 134.33,337.38 135,337.25 135.67,337.44 136.33,337.3 137,337.42 137.67,337.33 138.27,337.23 138.87,337.02 139.47,337.44 140.07,336.44 140.67,337.43 141.27,338.16 141.87,337.02 142.47,337.88 143.07,337.68 143.67,338.42 144.27,336.86 144.87,337.24 145.47,337.63 146.07,337.72 146.67,337.65 147.27,337.54 147.87,337.57 148.47,336.97 149.07,337.12 149.67,337.74 150.27,337.5 150.87,336.33 151.47,337.22 152.07,337.74 152.67,336.57 153.27,337.41 153.87,336.63 154.47,337.27 155.07,338.13 155.67,337.54 156.27,337.29 156.87,337.51 157.47,337.64 158.07,337.11 158.67,337.83 159.27,337.6 159.87,337.39 160.47,336.92 161.07,336.83 161.67,337.94 162.27,336.92 162.87,337.16 163.47,338 164.07,337.81 164.67,337.41 165.27,337.02 165.87,336.96 166.47,336.87 167.07,336.03 167.67,337.31 168.27,337.28 168.87,337.91 169.47,335.62 170.07,337.25 170.67,337.45 171.27,337.42 171.87,337.49 172.47,336.47 173.07,336.99 173.67,336.68 174.27,335.93 174.87,337.82 175.47,336.93 176.07,335.69 176.67,336.31 177.27,336.47 177.87,336.51 178.47,335.79 179.07,336.36 179.67,337.21 180.27,336.87 180.87,337.06 181.47,336.76 182.07,337.29 182.67,336.08 183.27,336.41 183.87,337.51 184.47,336.65 185.07,336.54 185.67,336.85 186.27,336.73 186.87,336.92 187.47,337.07 188.07,337.02 188.67,336.57 189.27,336.97 189.87,336.92 190.47,336.95 191.07,337.04 191.67,336.71 192.27,337.32 192.87,336.07 193.47,337.13 194.07,335.92 194.67,335.91 195.27,336.56 195.87,337.02 196.47,336.91 197.07,337.25 197.67,337.04 198.27,336.41 198.87,336.52 199.47,335.95 200.07,336.96 200.67,336.96 201.27,336.4 201.87,336.76 202.47,337.29 203.07,336.09 203.67,336.55 204.27,336.25 204.87,335.99 205.47,335.49 206.07,336.84 206.67,336.09 207.27,336.39 207.87,336.54 208.47,336.22 209.07,336.58 209.67,336.54 210.27,336.57 210.87,335.89 211.47,336.3 212.07,336.52 212.67,336.19 213.27,336.03 213.87,336.68 214.47,336.4 215.07,335.87 215.67,336.59 216.27,336.21 216.87,336.46 217.47,336.06 218.07,337.45 218.67,336.78 219.27,337.05 219.87,336.68 220.47,336.16 221.07,336.73 221.67,336.44 222.27,336.85 222.87,336.43 223.47,336.91 224.07,336.25 224.67,335.84 225.27,336.02 225.87,336.5 226.47,336.07 227.07,336.14 227.67,335.9 228.27,336.71 228.87,336.03 229.47,335.99 230.07,336.32 230.67,335.87 231.27,335.85 231.87,336.18 232.47,335.76 233.07,335.59 233.67,337.12 234.27,336.57 234.87,336.44 235.47,335.47 236.07,336.04 236.67,336.24 237.27,335.87 237.87,335.37 238.47,336.39 239.07,336.46 239.67,336.71 240.27,336.13 240.87,336.32 241.47,335.85 242.07,335.88 242.67,336.14 243.27,336.39 243.87,334.82 244.47,335.26 245.07,335.78 245.67,336.05 246.27,335.41 246.87,335.87 247.47,335.15 248.07,335.97 248.67,335.73 249.27,335.18 249.87,336.27 250.47,335.86 251.07,335.28 251.67,335.91 252.27,335.96 252.87,335.42 253.47,336.3 254.07,335.71 254.67,336.18 255.27,336.3 255.87,335.9 256.47,335.51 257.07,335.98 257.67,336.02 258.27,335.41 258.87,335.52 259.47,336.02 260.07,335.68 260.67,335.31 261.27,335.7 261.87,335.97 262.47,335.27 263.07,335.8 263.67,335.82 264.27,335.96 264.87,336.38 265.47,335.79 266.07,336.3 266.67,336.07 267.27,336.18 267.87,336.43 268.47,336.28 269.07,335.35 269.67,335.92 270.27,335.84 270.87,336.46 271.47,336.46 272.07,336.1 272.67,336.41 273.27,336.1 273.87,336.17 274.47,336.14 275.07,336.5 275.67,336.19 276.27,335.99 276.87,336.08 277.47,335.74 278.07,336.36 278.67,336.21 279.27,335.39 279.87,336.3 280.47,335.75 281.07,335.98 281.67,335.69 282.27,335.8 282.87,335.95 283.47,334.98 284.07,334.7 284.67,335.6 285.27,335.95 285.87,335.16 286.47,335.77 287.07,335.28 287.67,335.63 288.27,336.01 288.87,336.85 289.47,336.11 290.07,336.69 290.67,336.18 291.27,336.62 291.87,335.91 292.47,335.85 293.07,336.62 293.67,335.44 294.27,336.26 294.87,336.25 295.47,336.81 296.07,335.98 296.67,336.53 297.27,336.87 297.87,337.3 298.47,336.25 299.07,336.4 299.67,335.7 300.27,336.75 300.87,336.88 301.47,336.27 302.07,336.95 302.67,336.47 303.27,336.49 303.87,336.36 304.47,337.09 305.07,335.91 305.67,335.86 306.27,336.36 306.87,337.2 307.47,336.64 308.07,336.11 308.67,335.96 309.27,336.47 309.87,336.55 310.47,336.57 311.07,337.18 311.67,336.68 312.27,336.32 312.87,335.98 313.47,335.9 314.07,336.94 314.67,336.3 315.27,337.59 315.87,335.75 316.47,336.3 317.07,336.85 317.67,336.61 318.27,336.28 318.87,336.61 319.47,336.54 320.07,336.72 320.67,336.62 321.27,336.52 321.87,337.38 322.47,337.24 323.07,337.08 323.67,336.21 324.27,336.25 324.87,335.94 325.47,336.18 326.07,336.54 326.67,335.96 327.27,336.51 327.87,336.04 328.47,335.57 329.07,336.34 329.67,336.35 330.27,336.18 330.87,336.16 331.47,335.56 332.07,335.97 332.67,335.65 333.27,336.16 333.87,336.26 334.47,336.22 335.07,336.46 335.67,335.82 336.27,336.18 336.87,335.95 337.47,336.41 338.07,336.3 338.67,335.15 339.27,336.7 339.87,336.37 340.47,336.68 341.07,335.99 341.67,336.29 342.27,336.73 342.87,336.22 343.47,337.07 344.07,336.7 344.67,337.17 345.27,337.19 345.87,336.34 346.47,335.89 347.07,336.55 347.67,336.59 348.27,336.43 348.87,336.29 349.47,336.67" stroke="#0000ff" stroke-width="1.35" fill="none" stroke-linejoin="round"/>
<polyline points="59.6,360.67 59.6,324.67 60,336.67 60.67,343.33 61.33,344.89 62,348.67 62.67,349.64 63.33,350 64,350.89 64.67,350.59 65.33,350.67 66,351.46 66.67,349.81 67.33,350 68,350.1 68.67,348.8 69.33,348 70,347.01 70.67,346.1 71.33,344.67 72,344.89 72.67,342.34 73.33,342.67 74,342.33 74.67,341.78 75.33,341.33 76,340.88 76.67,339.33 77.33,338.39 78,337.33 78.67,336.8 79.33,336.87 80,336.91 80.67,336 81.33,335.15 82,335.18 82.67,334.48 83.33,334 84,332.83 84.67,332.28 85.33,331.33 86,331.93 86.67,329.78 87.33,329.33 88,329.62 88.67,329.44 89.33,328.93 90,330.08 90.67,329.51 91.33,330 92,329.84 92.67,331.49 93.33,330.36 94,332 94.67,332.88 95.33,333.99 96,334 96.67,334.87 97.33,335.01 98,335.33 98.67,335.48 99.33,335.55 100,336 99.4,336.45 98.8,334.81 98.2,334.94 97.6,335.22 97,335.33 97.67,335.71 98.33,336.59 99,336.67 99.67,336.67 100.33,336.99 101,336.73 101.67,337.81 102.33,337.77 103,337.33 103.67,336.23 104.33,337.69 105,337.1 105.67,336.77 106.33,337.07 107,336.66 107.67,336.34 108.33,336 108.94,336.25 109.55,334.88 110.15,336.11 110.76,335.91 111.36,335.11 111.97,335.37 112.58,335.96 113.18,335.31 113.79,334.91 114.39,335.31 115,335.33 115.61,334.93 116.21,335.22 116.82,335.71 117.42,336.13 118.03,334.77 118.64,334.95 119.24,333.94 119.85,334.84 120.45,334.59 121.06,333.8 121.67,334 122.27,334.18 122.87,333.06 123.47,333.69 124.07,334.27 124.67,333.89 125.27,333.68 125.87,333.83 126.47,334.22 127.07,333.86 127.67,333.99 128.27,334.34 128.87,332.9 129.47,333.72 130.07,333.98 130.67,333.6 131.27,332.39 131.87,333.85 132.47,333.65 133.07,333.24 133.67,333.48 134.27,334 134.87,332.5 135.47,333.43 136.07,333.95 136.67,333.8 137.27,333.87 137.87,333.42 138.47,332.7 139.07,333.02 139.67,332.39 140.27,332.71 140.87,332.48 141.47,332.71 142.07,333.08 142.67,332.31 143.27,332.91 143.87,333.38 144.47,333.89 145.07,331.98 145.67,332.65 146.27,333.54 146.87,332.62 147.47,334.65 148.07,332.92 148.67,333.84 149.27,333.48 149.87,334.57 150.47,334.49 151.07,334.4 151.67,332.67 152.27,333.59 152.87,334.61 153.47,334.51 154.07,333.52 154.67,333.83 155.27,333.78 155.87,333.09 156.47,333.7 157.07,334.53 157.67,334.28 158.27,334.75 158.87,333.65 159.47,334.35 160.07,334.76 160.67,334.32 161.27,334.05 161.87,333.93 162.47,333.7 163.07,334.03 163.67,334.66 164.27,335.39 164.87,334.13 165.47,334.13 166.07,334.75 166.67,334.12 167.27,334.41 167.87,334.2 168.47,334.61 169.07,333.77 169.67,334.56 170.27,333.31 170.87,333.61 171.47,334.07 172.07,335.15 172.67,335.42 173.27,333.21 173.87,333.34 174.47,334.41 175.07,333.27 175.67,333.8 176.27,334.11 176.87,333.48 177.47,333.74 178.07,333.79 178.67,333.51 179.27,333.06 179.87,332.92 180.47,333.63 181.07,332.84 181.67,333.88 182.27,334.73 182.87,334.23 183.47,334.1 184.07,332.97 184.67,333.87 185.27,333.75 185.87,332.74 186.47,334.56 187.07,333.2 187.67,334.59 188.27,334.6 188.87,333.93 189.47,334.33 190.07,335.47 190.67,335.39 191.27,333.94 191.87,334.93 192.47,334.69 193.07,334.39 193.67,334.2 194.27,333.3 194.87,333.27 195.47,335.45 196.07,335.66 196.67,334.6 197.27,333.99 197.87,334.36 198.47,333.86 199.07,333.49 199.67,334.89 200.27,333.29 200.87,334.11 201.47,334.01 202.07,334.66 202.67,333.93 203.27,333.55 203.87,334.33 204.47,333.27 205.07,333.48 205.67,335.09 206.27,333.99 206.87,334.98 207.47,334.11 208.07,333.62 208.67,333.13 209.27,334.03 209.87,334.17 210.47,334.78 211.07,334.26 211.67,333.93 212.27,333.55 212.87,333.65 213.47,334.61 214.07,333.64 214.67,333.38 215.27,334.19 215.87,333.79 216.47,333.76 217.07,333.47 217.67,334.55 218.27,334.37 218.87,334.81 219.47,333.59 220.07,332.65 220.67,334.47 221.27,334.07 221.87,333.89 222.47,334.31 223.07,333.37 223.67,332.95 224.27,333.65 224.87,333.96 225.47,334.72 226.07,334.31 226.67,334.48 227.27,334.72 227.87,333.64 228.47,334.53 229.07,334.48 229.67,333.85 230.27,333.8 230.87,335.06 231.47,334.13 232.07,333.78 232.67,334.07 233.27,334.12 233.87,334.63 234.47,333.69 235.07,334.26 235.67,333.61 236.27,334.02 236.87,333.19 237.47,334.36 238.07,335.14 238.67,333.69 239.27,334.51 239.87,334.21 240.47,334.14 241.07,334.66 241.67,334.9 242.27,334.36 242.87,333.75 243.47,334.48 244.07,334.62 244.67,334.96 245.27,334.8 245.87,334.65 246.47,335.37 247.07,334.66 247.67,335.75 248.27,335.07 248.87,333.98 249.47,334.75 250.07,334.3 250.67,334.32 251.27,334.58 251.87,335 252.47,334.41 253.07,335.6 253.67,334.64 254.27,334.8 254.87,335.1 255.47,334.86 256.07,335.08 256.67,332.99 257.27,334.16 257.87,334.98 258.47,334.93 259.07,334.87 259.67,333.95 260.27,335.56 260.87,334.77 261.47,335.19 262.07,334.63 262.67,335.54 263.27,334.34 263.87,334.66 264.47,334.62 265.07,334.78 265.67,334.33 266.27,334.88 266.87,334.42 267.47,333.51 268.07,334.37 268.67,334.08 269.27,333.46 269.87,335 270.47,332.99 271.07,334.81 271.67,334.59 272.27,332.79 272.87,334.23 273.47,334.48 274.07,333.84 274.67,333.71 275.27,334.53 275.87,333.94 276.47,334 277.07,334.45 277.67,333.21 278.27,333.95 278.87,334 279.47,334.06 280.07,334.09 280.67,333.9 281.27,334.14 281.87,333.55 282.47,333.42 283.07,333.07 283.67,334.57 284.27,333.88 284.87,334.23 285.47,334.55 286.07,334.04 286.67,334.56 287.27,334.41 287.87,334.47 288.47,333.72 289.07,334.42 289.67,333.35 290.27,333.52 290.87,333.88 291.47,333.89 292.07,333.78 292.67,333.26 293.27,334.36 293.87,332.92 294.47,333.96 295.07,333.41 295.67,333.32 296.27,332.28 296.87,333.88 297.47,334.02 298.07,332.91 298.67,333.35 299.27,334.46 299.87,333.89 300.47,332.89 301.07,333.89 301.67,334 302.27,334.03 302.87,333.18 303.47,333.58 304.07,333.48 304.67,334.78 305.27,334.48 305.87,333.38 306.47,334.15 307.07,334.56 307.67,333.98 308.27,333.63 308.87,334.01 309.47,333.43 310.07,333.46 310.67,334.34 311.27,332.66 311.87,333.37 312.47,334.66 313.07,333.16 313.67,333.71 314.27,334.26 314.87,334.03 315.47,333.86 316.07,331.97 316.67,333.74 317.27,333.71 317.87,333.48 318.47,333.74 319.07,334.22 319.67,333.46 320.27,334.24 320.87,333.95 321.47,333.87 322.07,334.28 322.67,333.78 323.27,334.26 323.87,335.19 324.47,334.76 325.07,334.95 325.67,334.63 326.27,333.71 326.87,334.62 327.47,334.26 328.07,334.63 328.67,334.04 329.27,333.68 329.87,334.18 330.47,333.06 331.07,334.53 331.67,333.85 332.27,334.9 332.87,335.05 333.47,335.24 334.07,332.55 334.67,334.08 335.27,334.13 335.87,333.4 336.47,334.05 337.07,334.16 337.67,334.32 338.27,333.63 338.87,334.86 339.47,333.86 340.07,335.09 340.67,334.39 341.27,334.57 341.87,334.32 342.47,333.76 343.07,334.67 343.67,335.19 344.27,335.05 344.87,334.68 345.47,333.6 346.07,334.76 346.67,334.09 347.27,334.16 347.87,335.01 348.47,333.94 349.07,333.77 349.67,334.46" stroke="#ff0000" stroke-width="1.35" fill="none" stroke-linejoin="round"/>
<polyline points="53.33,360.67 65.33,360.67 65.33,352 66,351.33 66.67,351.09 67.33,350 68,348.39 68.67,347.45 69.33,346 70,343.54 70.67,340.67 71.33,337.42 72,334 72.67,332.56 73.33,330.67 74,331.28 74.67,331.33 75.33,332.07 76,333.33 76.67,331.82 77.33,330 78,328.77 78.67,326.67 79.33,328.58 80,329.33 80.67,330.93 81.33,333.33 82,335.49 82.67,338 83.33,339.15 84,340.67 84.67,338.68 85.33,338 86,337.29 86.67,336 87.33,336.72 88,335.33 88.67,334.39 89.33,334 90,335.21 90.67,336.67 91.33,337.16 92,338 92.67,338.67 93.33,338.04 94,339.3 94.67,338 95.33,337.05 96,337.52 96.67,336.67 97.33,337.69 98,337.67 98.67,338 99.33,338.51 100,337.33 99,336.67 99.67,336.02 100.33,335.57 101,337.73 101.67,337.82 102.33,337.74 103,338 103.67,338.4 104.33,338.07 105,338.17 105.67,338.51 106.33,339.18 107,339.33 107.67,339.58 108.33,340.22 109,338.9 109.67,338.03 110.33,339.31 111,338.67 111.67,338.61 112.33,338.38 113,339.43 113.67,338.14 114.33,338.57 115,339.33 115.67,340.37 116.33,339.09 117,339.63 117.67,340.09 118.33,338.71 119,339.33 119.67,339.29 120.33,339.66 121,339.35 121.67,338.67 122.33,339.46 123,340.08 123.67,339.8 124.33,339.1 125,338.37 125.67,338.67 126.33,338.96 127,337.9 127.67,337.06 128.33,337.03 129,337.62 129.67,337.33 130.33,337.23 131,336.85 131.67,337.63 132.33,336.86 133,336.41 133.67,336.67 134.33,336.59 135,336.46 135.67,336.71 136.33,336.23 137,336.65 137.67,336 138.27,335.92 138.87,335.41 139.47,335.94 140.07,336.13 140.67,336.38 141.27,334.55 141.87,336.56 142.47,336.83 143.07,338.19 143.67,336.29 144.27,337.28 144.87,337.49 145.47,336.7 146.07,335.03 146.67,336.23 147.27,336.29 147.87,337.81 148.47,336.68 149.07,336.7 149.67,337 150.27,336.4 150.87,336.87 151.47,337.83 152.07,337.21 152.67,336.59 153.27,335.86 153.87,336.57 154.47,337.08 155.07,336.3 155.67,336.71 156.27,337.51 156.87,337.04 157.47,336.75 158.07,336.27 158.67,336.59 159.27,337.16 159.87,336.15 160.47,337.27 161.07,336.19 161.67,335.76 162.27,336.94 162.87,336.59 163.47,336.54 164.07,337.21 164.67,335.73 165.27,337.37 165.87,337.12 166.47,336.84 167.07,336.94 167.67,337.21 168.27,336.13 168.87,336.35 169.47,335.75 170.07,336.18 170.67,336.64 171.27,335.28 171.87,335.46 172.47,334.36 173.07,336.6 173.67,335.93 174.27,337.12 174.87,336 175.47,337.62 176.07,337.16 176.67,335.12 177.27,335.86 177.87,336.13 178.47,335.84 179.07,337.3 179.67,336.62 180.27,335.47 180.87,336.93 181.47,335.91 182.07,333.97 182.67,337.42 183.27,336.65 183.87,337 184.47,336.64 185.07,335.9 185.67,336.52 186.27,336.22 186.87,337.18 187.47,336.28 188.07,337.36 188.67,335.88 189.27,335.51 189.87,335.66 190.47,337.03 191.07,337.04 191.67,336 192.27,337.04 192.87,337.57 193.47,336.45 194.07,336.27 194.67,338.41 195.27,336.64 195.87,335.92 196.47,337.61 197.07,337.45 197.67,336.2 198.27,335.29 198.87,337.08 199.47,336.17 200.07,337.28 200.67,336.02 201.27,336.99 201.87,337.6 202.47,337.27 203.07,336.47 203.67,336.2 204.27,337.57 204.87,337.12 205.47,336.62 206.07,336.82 206.67,336.71 207.27,335.25 207.87,337.56 208.47,336.34 209.07,337.92 209.67,337.07 210.27,336.34 210.87,335.95 211.47,336.55 212.07,336.59 212.67,334.86 213.27,337.15 213.87,333.13 214.47,336.25 215.07,334.63 215.67,334.77 216.27,336.11 216.87,335.62 217.47,334.88 218.07,335.97 218.67,335.94 219.27,335.92 219.87,336.38 220.47,334.97 221.07,334.59 221.67,336.32 222.27,336.5 222.87,336.6 223.47,335.49 224.07,335.15 224.67,334.7 225.27,334.8 225.87,335.68 226.47,335.25 227.07,336.35 227.67,336.23 228.27,335.47 228.87,335.42 229.47,335.86 230.07,335 230.67,334.49 231.27,335.56 231.87,334.13 232.47,335.43 233.07,334.3 233.67,335.49 234.27,335.48 234.87,335.09 235.47,336.02 236.07,335.16 236.67,334.37 237.27,335.32 237.87,335.06 238.47,335.64 239.07,335.13 239.67,334.14 240.27,333.77 240.87,334.17 241.47,334.76 242.07,335.75 242.67,335.93 243.27,335.87 243.87,334.86 244.47,335.14 245.07,335.27 245.67,335.44 246.27,336.18 246.87,336.27 247.47,336.44 248.07,335.64 248.67,336.03 249.27,335.13 249.87,335.38 250.47,335.01 251.07,335.22 251.67,336.39 252.27,333.68 252.87,335.16 253.47,335.54 254.07,335.42 254.67,335.42 255.27,333.86 255.87,334.37 256.47,335.55 257.07,335.61 257.67,335.26 258.27,335.2 258.87,335.25 259.47,335.96 260.07,335.26 260.67,335.15 261.27,334.57 261.87,334.34 262.47,333.77 263.07,335.97 263.67,334.16 264.27,334.99 264.87,334.64 265.47,334.66 266.07,335.79 266.67,335.34 267.27,334.76 267.87,335.25 268.47,334.77 269.07,335.38 269.67,333.68 270.27,335.15 270.87,336.12 271.47,334.42 272.07,335.74 272.67,335.3 273.27,335.34 273.87,334.82 274.47,334.39 275.07,334.39 275.67,334.73 276.27,334.7 276.87,335.76 277.47,336.06 278.07,335.39 278.67,335.89 279.27,335.86 279.87,334.93 280.47,335.14 281.07,333.97 281.67,336.48 282.27,336.35 282.87,335.32 283.47,334.95 284.07,335.56 284.67,335.68 285.27,335.56 285.87,334.75 286.47,336.17 287.07,335.4 287.67,335.07 288.27,334.57 288.87,335.49 289.47,335.48 290.07,335.22 290.67,335.98 291.27,336.37 291.87,335.66 292.47,335.2 293.07,336.78 293.67,335.84 294.27,336.56 294.87,334.58 295.47,336.5 296.07,334.68 296.67,336.63 297.27,335.76 297.87,334.7 298.47,335.8 299.07,336.64 299.67,335.95 300.27,334.57 300.87,336.71 301.47,336.17 302.07,332.65 302.67,335.38 303.27,333.98 303.87,336.39 304.47,334.33 305.07,336.58 305.67,335.12 306.27,335.39 306.87,334.74 307.47,335.66 308.07,335.04 308.67,334.11 309.27,334.84 309.87,334.59 310.47,336.12 311.07,334.67 311.67,335.16 312.27,334.06 312.87,334.23 313.47,335.44 314.07,335.32 314.67,333.64 315.27,334.89 315.87,335.79 316.47,335.18 317.07,334.36 317.67,333.48 318.27,335.85 318.87,336.29 319.47,335.18 320.07,334.86 320.67,335.97 321.27,333.36 321.87,335.13 322.47,335.03 323.07,334.84 323.67,335.07 324.27,335.28 324.87,335.12 325.47,334.22 326.07,335.72 326.67,333.66 327.27,333.25 327.87,334.57 328.47,335.92 329.07,335.19 329.67,335.09 330.27,334.96 330.87,334.67 331.47,335.39 332.07,335.33 332.67,335.07 333.27,334.66 333.87,332.75 334.47,334.82 335.07,336.04 335.67,334.96 336.27,335.25 336.87,334 337.47,336.02 338.07,334.94 338.67,335.32 339.27,335.73 339.87,335.76 340.47,334.34 341.07,334.09 341.67,334.94 342.27,334 342.87,334.93 343.47,334.8 344.07,335.31 344.67,335.44 345.27,334.23 345.87,334.25 346.47,334.88 347.07,334.64 347.67,333.33 348.27,333.43 348.87,335.42 349.47,336.05" stroke="#000000" stroke-width="1.35" fill="none" stroke-linejoin="round"/>
<polyline points="53.4,416.4 53.62,415.26 53.94,413.6 54.3,411.84 54.67,410.4 55.05,409.4 55.45,408.62 55.86,407.93 56.27,407.2 56.67,406.35 57.07,405.47 57.47,404.65 57.87,404 58.27,403.57 58.67,403.3 59.07,403.11 59.47,402.93 59.87,402.72 60.27,402.53 60.67,402.41 61.07,402.4 61.47,402.54 61.87,402.8 62.27,403.13 62.67,403.47 63.08,403.9 63.5,404.4 63.91,404.85 64.27,405.07 64.57,405.12 64.83,405.04 65.08,404.7 65.33,404 65.6,402.8 65.86,401.2 66.13,399.4 66.4,397.6 66.67,395.81 66.94,393.93 67.2,392.02 67.47,390.13 67.74,388.21 68,386.27 68.26,384.39 68.53,382.67 68.78,381.14 69.03,379.73 69.3,378.46 69.6,377.33 69.96,376.29 70.37,375.36 70.79,374.62 71.2,374.13 71.6,373.96 72,374.07 72.4,374.34 72.8,374.67 73.19,375.07 73.57,375.57 73.96,376.16 74.4,376.8 74.9,377.52 75.43,378.33 75.98,379.17 76.53,380 77.06,380.8 77.6,381.6 78.14,382.4 78.67,383.2 79.2,384 79.74,384.8 80.27,385.6 80.8,386.4 81.33,387.21 81.86,388.03 82.4,388.84 82.93,389.6 83.46,390.32 84,391 84.54,391.65 85.07,392.27 85.6,392.84 86.14,393.37 86.67,393.88 87.2,394.4 87.76,394.97 88.35,395.56 88.89,396.1 89.33,396.53 89.59,396.78 89.73,396.89 89.87,396.99 90.13,397.2 90.57,397.55 91.12,397.99 91.7,398.45 92.27,398.9 92.82,399.35 93.37,399.81 93.91,400.24 94.4,400.6 94.85,400.88 95.27,401.1 95.65,401.27 96,401.4 96.29,401.51 96.53,401.58 96.78,401.58 97.07,401.5 97.43,401.33 97.84,401.09 98.26,400.75 98.67,400.27 99.07,399.6 99.47,398.76 99.87,397.88 100.27,397.07 100.66,396.35 101.04,395.65 101.43,395 101.87,394.4 102.34,393.83 102.83,393.29 103.38,392.82 104,392.48 104.72,392.3 105.53,392.25 106.37,392.27 107.2,392.27 108,392.24 108.8,392.22 109.6,392.23 110.4,392.27 111.2,392.35 112,392.47 112.8,392.62 113.6,392.8 114.4,393.01 115.2,393.26 116,393.54 116.8,393.87 117.63,394.29 118.47,394.79 119.28,395.28 120,395.68 120.58,395.98 121.06,396.21 121.55,396.39 122.13,396.53 122.86,396.6 123.68,396.6 124.53,396.58 125.33,396.6 126.06,396.7 126.77,396.84 127.47,396.93 128.2,396.9 128.98,396.71 129.78,396.42 130.59,396.04 131.4,395.6 132.2,395.04 133,394.37 133.8,393.71 134.6,393.2 135.33,392.87 136,392.65 136.78,392.51 137.8,392.4 139.21,392.32 140.9,392.3 142.64,392.32 144.2,392.4 145.44,392.56 146.5,392.78 147.61,393.02 149,393.2 150.81,393.32 152.9,393.42 155.04,393.48 157,393.5 158.75,393.49 160.4,393.44 161.95,393.35 163.4,393.2 164.71,392.98 165.9,392.69 167.04,392.39 168.2,392.1 169.32,391.81 170.4,391.51 171.57,391.26 173,391.1 174.8,391.07 176.86,391.14 179,391.27 181,391.4 182.83,391.54 184.6,391.71 186.32,391.9 188,392.1 189.64,392.35 191.24,392.63 192.81,392.88 194.4,393 196,392.97 197.6,392.84 199.2,392.63 200.8,392.4 202.4,392.11 204,391.75 205.6,391.39 207.2,391.1 208.8,390.86 210.4,390.65 212,390.51 213.6,390.5 215.2,390.66 216.8,390.96 218.4,391.3 220,391.6 221.6,391.88 223.2,392.18 224.8,392.41 226.4,392.5 227.98,392.39 229.55,392.14 231.14,391.84 232.8,391.6 234.48,391.42 236.18,391.25 237.98,391.13 240,391.1 242.33,391.2 244.89,391.39 247.5,391.61 250,391.8 252.32,391.97 254.56,392.14 256.77,392.27 259,392.3 261.23,392.17 263.44,391.91 265.68,391.65 268,391.5 270.43,391.52 272.94,391.64 275.48,391.76 278,391.8 280.5,391.69 283,391.49 285.5,391.3 288,391.2 290.5,391.22 293,391.32 295.5,391.46 298,391.6 300.5,391.77 303,391.97 305.5,392.14 308,392.2 310.5,392.09 313,391.86 315.5,391.62 318,391.5 320.5,391.56 323,391.73 325.5,391.91 328,392 330.45,391.94 332.88,391.81 335.36,391.66 338,391.6 341.13,391.65 344.6,391.78 347.76,391.91 349.95,392" stroke="#0000ff" stroke-width="1.35" fill="none" stroke-linejoin="round"/>
<polyline points="59.47,416.4 59.47,383.73 59.85,384.28 60.4,385.06 61.02,385.98 61.6,386.93 62.13,387.93 62.66,389.03 63.2,390.15 63.73,391.2 64.26,392.18 64.8,393.13 65.34,394.05 65.87,394.93 66.4,395.79 66.94,396.63 67.47,397.42 68,398.13 68.54,398.79 69.1,399.4 69.63,399.91 70.13,400.27 70.57,400.45 70.96,400.47 71.34,400.4 71.73,400.27 72.12,400.09 72.5,399.83 72.89,399.53 73.33,399.2 73.83,398.84 74.37,398.43 74.92,398.01 75.47,397.6 76,397.2 76.54,396.8 77.07,396.4 77.6,396 78.13,395.6 78.66,395.2 79.2,394.8 79.73,394.4 80.26,393.99 80.8,393.57 81.34,393.16 81.87,392.8 82.4,392.51 82.94,392.27 83.47,392.02 84,391.73 84.53,391.4 85.06,391.06 85.6,390.65 86.13,390.13 86.67,389.43 87.22,388.6 87.75,387.73 88.27,386.93 88.74,386.19 89.17,385.47 89.61,384.81 90.13,384.27 90.75,383.86 91.45,383.55 92.15,383.33 92.8,383.2 93.36,383.15 93.86,383.18 94.37,383.3 94.93,383.52 95.55,383.86 96.2,384.31 96.88,384.82 97.6,385.33 98.36,385.85 99.17,386.41 99.99,386.97 100.8,387.47 101.6,387.93 102.4,388.35 103.2,388.74 104,389.07 104.8,389.35 105.6,389.57 106.4,389.75 107.2,389.92 108,390.07 108.8,390.2 109.6,390.3 110.4,390.35 111.2,390.35 112,390.3 112.8,390.22 113.6,390.13 114.4,390.01 115.2,389.87 116,389.72 116.8,389.6 117.56,389.51 118.29,389.43 119.07,389.36 120,389.28 121.05,389.19 122.2,389.1 123.5,389 125,388.9 126.79,388.75 128.81,388.58 130.93,388.44 133,388.4 135,388.53 137,388.79 139,389.05 141,389.2 143,389.18 145,389.06 147,388.94 149,388.9 151,388.99 153,389.15 155,389.34 157,389.5 159,389.64 161,389.79 163,389.91 165,390 167,390.04 169,390.05 171,390.03 173,390 175.02,389.95 177.06,389.88 179.07,389.8 181,389.7 182.8,389.57 184.5,389.41 186.2,389.27 188,389.2 189.93,389.23 191.94,389.32 193.98,389.43 196,389.5 198,389.51 200,389.49 202,389.47 204,389.5 206,389.59 208,389.72 210,389.87 212,390 214,390.13 216,390.26 218,390.36 220,390.4 221.91,390.35 223.75,390.22 225.72,390.09 228,390 230.77,389.98 233.88,390 237.05,390.02 240,390 242.64,389.91 245.12,389.77 247.55,389.65 250,389.6 252.5,389.66 255,389.8 257.5,389.94 260,390 262.5,389.94 265,389.81 267.5,389.67 270,389.6 272.5,389.64 275,389.75 277.5,389.86 280,389.9 282.5,389.83 285,389.69 287.5,389.56 290,389.5 292.5,389.55 295,389.66 297.5,389.8 300,389.9 302.5,389.98 305,390.05 307.5,390.1 310,390.1 312.5,390.04 315,389.92 317.5,389.79 320,389.7 322.5,389.64 325,389.61 327.5,389.59 330,389.6 332.5,389.66 335,389.75 337.5,389.84 340,389.9 342.72,389.9 345.6,389.87 348.16,389.83 349.95,389.8" stroke="#ff0000" stroke-width="1.35" fill="none" stroke-linejoin="round"/>
<polyline points="53.4,416.4 65.33,416.4 65.33,405.07 65.62,405.29 66.03,405.6 66.49,405.91 66.93,406.13 67.33,406.23 67.73,406.26 68.13,406.23 68.53,406.13 68.94,405.99 69.36,405.8 69.77,405.51 70.13,405.07 70.43,404.47 70.7,403.74 70.94,402.87 71.2,401.87 71.47,400.67 71.74,399.3 72,397.88 72.27,396.53 72.54,395.24 72.8,393.96 73.06,392.77 73.33,391.73 73.6,390.89 73.86,390.2 74.13,389.61 74.4,389.07 74.64,388.57 74.87,388.14 75.13,387.77 75.47,387.47 75.94,387.25 76.5,387.1 77.08,387 77.6,386.93 78.05,386.92 78.47,386.96 78.85,386.99 79.2,386.93 79.49,386.73 79.73,386.43 79.98,386.12 80.27,385.87 80.63,385.67 81.04,385.5 81.46,385.38 81.87,385.33 82.28,385.34 82.7,385.4 83.11,385.56 83.47,385.87 83.77,386.4 84.03,387.1 84.28,387.85 84.53,388.53 84.78,389.15 85.03,389.77 85.3,390.3 85.6,390.67 85.98,390.85 86.42,390.87 86.84,390.8 87.2,390.67 87.43,390.47 87.57,390.17 87.73,389.85 88,389.6 88.44,389.39 88.98,389.2 89.57,389.08 90.13,389.07 90.66,389.22 91.2,389.5 91.74,389.83 92.27,390.13 92.79,390.4 93.3,390.66 93.83,390.93 94.4,391.2 95.05,391.52 95.77,391.87 96.47,392.15 97.07,392.27 97.53,392.15 97.9,391.87 98.26,391.52 98.67,391.2 99.17,390.88 99.7,390.53 100.26,390.25 100.8,390.13 101.33,390.25 101.86,390.53 102.4,390.88 102.93,391.2 103.44,391.48 103.93,391.77 104.46,392.04 105.07,392.27 105.8,392.45 106.6,392.6 107.45,392.72 108.27,392.8 109.07,392.83 109.87,392.81 110.67,392.79 111.47,392.8 112.27,392.85 113.07,392.91 113.87,393 114.67,393.12 115.47,393.28 116.27,393.48 117.07,393.69 117.87,393.87 118.67,394.04 119.47,394.22 120.27,394.35 121.07,394.4 121.85,394.33 122.62,394.16 123.42,393.98 124.27,393.87 125.22,393.88 126.23,393.95 127.25,394.02 128.2,394 129.05,393.88 129.85,393.71 130.62,393.48 131.4,393.2 132.13,392.83 132.8,392.38 133.58,391.94 134.6,391.6 135.94,391.39 137.5,391.27 139.21,391.19 141,391.1 142.96,391.03 145.1,391 147.19,390.94 149,390.8 150.43,390.49 151.6,390.07 152.68,389.69 153.8,389.5 154.96,389.6 156.1,389.9 157.29,390.25 158.6,390.5 160.05,390.64 161.6,390.73 163.25,390.78 165,390.8 166.89,390.77 168.9,390.69 170.96,390.59 173,390.5 175.02,390.44 177.06,390.39 179.07,390.32 181,390.2 182.83,389.98 184.6,389.7 186.32,389.42 188,389.2 189.68,389.04 191.34,388.92 192.93,388.86 194.4,388.9 195.68,389.11 196.8,389.46 197.93,389.8 199.2,390 200.69,389.98 202.3,389.82 203.96,389.63 205.6,389.5 207.2,389.45 208.8,389.44 210.4,389.45 212,389.5 213.53,389.59 215,389.71 216.58,389.86 218.4,390 220.52,390.16 222.85,390.34 225.36,390.5 228,390.6 230.88,390.61 233.97,390.56 237.08,390.48 240,390.4 242.64,390.3 245.12,390.17 247.55,390.06 250,390 252.5,390.04 255,390.15 257.5,390.26 260,390.3 262.5,390.23 265,390.1 267.5,389.97 270,389.9 272.5,389.94 275,390.05 277.5,390.16 280,390.2 282.5,390.14 285,390.01 287.5,389.87 290,389.8 292.5,389.82 295,389.89 297.5,389.97 300,390 302.5,389.94 305,389.84 307.5,389.74 310,389.7 312.5,389.77 315,389.9 317.5,390.03 320,390.1 322.5,390.07 325,389.99 327.5,389.88 330,389.8 332.5,389.74 335,389.68 337.5,389.63 340,389.6 342.72,389.61 345.6,389.64 348.16,389.68 349.95,389.7" stroke="#000000" stroke-width="1.35" fill="none" stroke-linejoin="round"/>
<polyline points="53.33,471 53.33,470.07 54,469.87 54.67,469.75 55.33,469.53 56,469.08 56.67,469.36 57.33,469.13 58,469.07 58.67,469.02 59.33,469 60.09,468.43 60.84,468.45 61.6,468.2 62.27,467.25 62.93,466.33 63.73,463.67 64.4,458.33 65.33,447.67 66.2,436.33 67.07,431.67 67.8,431.12 68.53,429.8 69.4,430.05 70.27,430.07 71.33,433 72,434.51 72.67,435.68 73.33,437 74,438.02 74.67,439.2 75.33,440.33 76,441.43 76.67,442.58 77.33,443.67 78,444.27 78.67,445.44 79.33,446.33 80,447.24 80.67,448.23 81.33,449 82,450.04 82.67,450.78 83.33,451.67 84,452.35 84.67,452.87 85.33,453.67 86,454.12 86.67,454.55 87.33,455 88,455.31 88.67,455.63 89.33,456.19 90,456.33 90.67,456.84 91.33,457.16 92,457.15 92.67,457.67 93.33,457.54 94,458.32 94.67,458.72 95.33,459 96,457.81 96.67,456.33 97.33,454.53 98,453.67 98.67,452.67 99.33,451.29 100,450.33 99.17,451.64 98.33,453 99,451.33 99.67,449.67 100.33,449.14 101,448.73 101.67,448.48 102.33,448.64 103,449.04 103.67,448.89 104.33,449 105,448.84 105.67,449.02 106.33,448.89 107,449.03 107.67,449 108.33,449 109,449.02 109.67,449.11 110.33,449.18 111,448.96 111.67,449.03 112.33,449 113,449.69 113.67,450.55 114.33,451.14 115,451.67 115.67,452 116.33,452.2 117,452.69 117.67,453 118.33,452.98 119,453.01 119.67,452.99 120.33,452.87 121,453.19 121.67,453 122.33,453 123,452.79 123.67,452.63 124.33,452.48 125,452.35 125.67,452.33 126.33,451.77 127,451.54 127.67,451.19 128.33,451 129,450.31 129.67,450.26 130.33,449.7 131,449 131.67,448.62 132.33,448.45 133,448.12 133.67,447.93 134.33,448.11 135,447.95 135.67,447.98 136.33,447.58 137,448 137.67,447.93 138.27,447.55 138.87,448.11 139.47,448.23 140.07,448.41 140.67,448.28 141.27,448.26 141.87,448.29 142.47,448.4 143.07,447.75 143.67,448.14 144.27,447.99 144.87,448.09 145.47,447.77 146.07,448.41 146.67,448.21 147.27,448.44 147.87,448.39 148.47,448.18 149.07,448.07 149.67,448.19 150.27,448.42 150.87,448.55 151.47,448.21 152.07,448.07 152.67,447.93 153.27,447.85 153.87,447.97 154.47,447.24 155.07,447.51 155.67,447.71 156.27,447.68 156.87,447.52 157.47,447.32 158.07,447.95 158.67,447.97 159.27,447.85 159.87,447.61 160.47,447.73 161.07,447.83 161.67,447.94 162.27,447.82 162.87,447.36 163.47,448.13 164.07,448.03 164.67,447.27 165.27,448.23 165.87,448.18 166.47,447.69 167.07,448.04 167.67,448.23 168.27,448.08 168.87,447.87 169.47,448.09 170.07,447.82 170.67,447.9 171.27,447.76 171.87,447.93 172.47,448.03 173.07,447.38 173.67,447.47 174.27,447.19 174.87,447.58 175.47,447.88 176.07,447.73 176.67,448.3 177.27,447.44 177.87,447.51 178.47,447.92 179.07,448.02 179.67,448.45 180.27,447.7 180.87,448.77 181.47,447.85 182.07,447.88 182.67,447.8 183.27,447.92 183.87,448.19 184.47,447.78 185.07,447.65 185.67,447.66 186.27,448.05 186.87,447.83 187.47,447.97 188.07,447.64 188.67,447.54 189.27,447.44 189.87,447.49 190.47,447.95 191.07,447.99 191.67,446.99 192.27,447.33 192.87,447.64 193.47,447.63 194.07,447.55 194.67,447.36 195.27,446.79 195.87,447.55 196.47,447.31 197.07,447.68 197.67,447.92 198.27,447.19 198.87,446.74 199.47,447.42 200.07,447.44 200.67,447.18 201.27,447.52 201.87,447.41 202.47,448.01 203.07,448.07 203.67,447.96 204.27,447.54 204.87,447.55 205.47,448.04 206.07,447.98 206.67,448.04 207.27,447.93 207.87,447.75 208.47,448.09 209.07,447.9 209.67,448.04 210.27,447.61 210.87,447.28 211.47,447.53 212.07,447.63 212.67,447.81 213.27,447.68 213.87,447.23 214.47,447.38 215.07,447.49 215.67,447.8 216.27,447.44 216.87,447.32 217.47,447.61 218.07,447.06 218.67,447.34 219.27,447.29 219.87,447.32 220.47,447.07 221.07,447.61 221.67,447.36 222.27,447.19 222.87,446.68 223.47,447.27 224.07,447.9 224.67,447.33 225.27,447.65 225.87,446.83 226.47,447.7 227.07,447.53 227.67,447.8 228.27,448.07 228.87,447.99 229.47,447.92 230.07,447.41 230.67,447.32 231.27,447.99 231.87,447.77 232.47,447.33 233.07,448.15 233.67,447.68 234.27,447.71 234.87,447.94 235.47,447.71 236.07,447.49 236.67,447.96 237.27,447.4 237.87,447.53 238.47,447.25 239.07,447.24 239.67,447.22 240.27,447.67 240.87,447.18 241.47,447.6 242.07,447.71 242.67,447.15 243.27,447.72 243.87,447.55 244.47,447.32 245.07,447.72 245.67,447.04 246.27,446.97 246.87,447.57 247.47,447.4 248.07,447.05 248.67,447.68 249.27,447.02 249.87,447.25 250.47,447.16 251.07,447.31 251.67,447.25 252.27,447.2 252.87,446.86 253.47,446.92 254.07,447.58 254.67,447.55 255.27,447.26 255.87,447.2 256.47,447.18 257.07,447.54 257.67,447.38 258.27,447.69 258.87,447.23 259.47,447.75 260.07,447.75 260.67,447.86 261.27,447.32 261.87,447.67 262.47,447.08 263.07,447.16 263.67,447 264.27,447.18 264.87,447.47 265.47,447.41 266.07,447.05 266.67,447.45 267.27,447.35 267.87,446.8 268.47,446.95 269.07,447.64 269.67,447.19 270.27,447.51 270.87,447.59 271.47,446.92 272.07,446.7 272.67,447.06 273.27,447.1 273.87,447.87 274.47,447.39 275.07,447.4 275.67,447.41 276.27,447.24 276.87,447.33 277.47,447.2 278.07,447.35 278.67,446.86 279.27,447.34 279.87,447.44 280.47,447.44 281.07,446.68 281.67,447.21 282.27,446.74 282.87,446.67 283.47,446.94 284.07,446.83 284.67,446.69 285.27,446.18 285.87,446.93 286.47,446.82 287.07,446.95 287.67,447.37 288.27,447.35 288.87,447.06 289.47,447.54 290.07,447.42 290.67,446.88 291.27,446.78 291.87,447.31 292.47,447.34 293.07,447.78 293.67,447.36 294.27,447.08 294.87,447.09 295.47,447.22 296.07,447.38 296.67,447.46 297.27,447.13 297.87,447.1 298.47,446.87 299.07,447.21 299.67,447.14 300.27,447.19 300.87,447.11 301.47,446.34 302.07,446.45 302.67,447.11 303.27,447.14 303.87,447.05 304.47,446.89 305.07,447.14 305.67,446.57 306.27,446.63 306.87,446.5 307.47,446.76 308.07,446.59 308.67,446.4 309.27,446.72 309.87,446.57 310.47,446.76 311.07,446.8 311.67,446.58 312.27,446.48 312.87,447.01 313.47,447.46 314.07,446.64 314.67,446.58 315.27,447.11 315.87,446.85 316.47,446.49 317.07,446.45 317.67,446.96 318.27,445.99 318.87,447.05 319.47,446.35 320.07,446.94 320.67,446.12 321.27,446.16 321.87,446.09 322.47,446.53 323.07,446.01 323.67,446.43 324.27,446.45 324.87,446.46 325.47,446.37 326.07,446.25 326.67,446.68 327.27,446.12 327.87,446.16 328.47,446.45 329.07,446.29 329.67,445.96 330.27,446.52 330.87,445.8 331.47,446.77 332.07,445.65 332.67,446.14 333.27,446.12 333.87,445.98 334.47,445.71 335.07,445.91 335.67,445.92 336.27,445.41 336.87,445.53 337.47,445.39 338.07,444.96 338.67,445.24 339.27,445.89 339.87,445.51 340.47,445.02 341.07,446.41 341.67,445.85 342.27,446.14 342.87,445.54 343.47,446.24 344.07,445.9 344.67,445.87 345.27,445.44 345.87,445.03 346.47,445.89 347.07,445.88 347.67,445.89 348.27,446.3 348.87,446.26 349.47,446.33" stroke="#0000ff" stroke-width="1.35" fill="none" stroke-linejoin="round"/>
<polyline points="59.6,471 59.6,434.07 60,442.33 60.67,449 61.33,454.33 62,456.29 62.67,457.67 63.33,459.1 64,459.67 64.67,459.11 65.33,460.31 66,460.73 66.67,460.75 67.33,460.14 68,460.33 68.67,459.52 69.33,458.67 70,457.67 70.67,457.05 71.33,455.96 72,455 72.67,454.51 73.33,453.5 74,453.67 74.67,452.98 75.33,453.68 76,452.33 76.67,451.08 77.33,450.46 78,449.67 78.67,449.86 79.33,448 80,447.67 80.67,447.44 81.33,446.9 82,447 82.67,446.06 83.33,445.41 84,444.33 84.67,442.85 85.33,441.08 86,440.33 86.67,439.6 87.33,439.04 88,438.33 88.67,438.19 89.33,439.05 90,439 90.67,438.93 91.33,440.53 92,440.33 92.67,440.4 93.33,441.52 94,441.67 94.67,442.16 95.33,442.68 96,443 96.67,443.47 97.33,445 98,445 98.67,445.96 99.33,445.47 100,446.33 99.39,445.72 98.78,444.99 98.17,444.61 97.56,445.33 96.94,444.49 96.33,444.33 97,444.74 97.67,445.14 98.33,446.33 99,446.11 99.67,446.6 100.33,447.31 101,447.83 101.67,447.67 102.33,447.12 103,446.21 103.67,446.99 104.33,447.11 105,447.48 105.67,447.67 106.33,447.35 107,446.57 107.67,447.45 108.33,446.83 109,446.77 109.67,447 110.33,446.29 111,446.55 111.67,446.4 112.33,446.11 113,446.56 113.67,446.33 114.33,446.48 115,446.05 115.67,447.09 116.33,447.01 117,446.29 117.67,446.07 118.33,446.39 119,445.88 119.67,445.28 120.33,445.95 121,444.86 121.67,445 122.33,444.03 123,444.58 123.67,444.29 124.33,444 125,444.36 125.67,444.33 126.27,444.43 126.87,445.47 127.47,444.8 128.07,444.51 128.67,445.17 129.27,444.72 129.87,444.65 130.47,444.57 131.07,443.89 131.67,444.85 132.27,444.98 132.87,444.44 133.47,445.05 134.07,445.17 134.67,444.3 135.27,445.86 135.87,444.86 136.47,444.71 137.07,445.58 137.67,445.32 138.27,444.12 138.87,444.26 139.47,444.29 140.07,444.86 140.67,443.87 141.27,444.86 141.87,444.41 142.47,444.2 143.07,444.16 143.67,444.55 144.27,444.26 144.87,443.97 145.47,444.93 146.07,444.13 146.67,444.64 147.27,444.21 147.87,444.66 148.47,444.49 149.07,444.41 149.67,444.74 150.27,444.97 150.87,444.69 151.47,444.48 152.07,444.18 152.67,443.81 153.27,444.79 153.87,444.9 154.47,444.11 155.07,443.77 155.67,443.92 156.27,444.56 156.87,444.49 157.47,444.76 158.07,444.67 158.67,444.58 159.27,444.6 159.87,444.78 160.47,444.57 161.07,444.21 161.67,444.04 162.27,444.19 162.87,445.32 163.47,444.31 164.07,444.9 164.67,444.32 165.27,443.72 165.87,443.69 166.47,443.81 167.07,443.84 167.67,444.3 168.27,444.2 168.87,444.33 169.47,445.11 170.07,445.22 170.67,444.75 171.27,444.56 171.87,444.71 172.47,443.96 173.07,444.64 173.67,445.41 174.27,445.11 174.87,444.91 175.47,444.31 176.07,444.47 176.67,444.22 177.27,444.76 177.87,445.28 178.47,444.39 179.07,444.79 179.67,444.44 180.27,444.3 180.87,444.85 181.47,443.94 182.07,443.29 182.67,443.76 183.27,444.67 183.87,444.05 184.47,443.39 185.07,443.74 185.67,444.39 186.27,443.66 186.87,443.98 187.47,444.08 188.07,444.24 188.67,443.73 189.27,444.56 189.87,444.32 190.47,444.26 191.07,444.61 191.67,443.5 192.27,443.91 192.87,443.92 193.47,443.69 194.07,443.53 194.67,444.8 195.27,444.72 195.87,443.77 196.47,444.37 197.07,444.12 197.67,443.87 198.27,443.76 198.87,444.34 199.47,444.36 200.07,443.96 200.67,443.81 201.27,444.08 201.87,444.31 202.47,444.09 203.07,444.69 203.67,444.44 204.27,444.35 204.87,444.4 205.47,444.24 206.07,444.6 206.67,444.38 207.27,444.67 207.87,444.19 208.47,444.68 209.07,444.17 209.67,444.12 210.27,443.54 210.87,444.65 211.47,443.87 212.07,444.29 212.67,443.43 213.27,444.14 213.87,444.03 214.47,444.26 215.07,443.82 215.67,443.04 216.27,443.65 216.87,443.36 217.47,443.91 218.07,444.01 218.67,442.98 219.27,443.56 219.87,443.33 220.47,443.85 221.07,443.27 221.67,444.53 222.27,443.59 222.87,444.61 223.47,444.2 224.07,443.47 224.67,443.83 225.27,444.87 225.87,444.3 226.47,444.07 227.07,444.55 227.67,443.99 228.27,444.4 228.87,444.4 229.47,444.73 230.07,443.9 230.67,444.72 231.27,444.33 231.87,444.18 232.47,444.38 233.07,444.25 233.67,444.7 234.27,444.63 234.87,444.75 235.47,444.93 236.07,444.99 236.67,444.98 237.27,444.69 237.87,444.75 238.47,444.77 239.07,444.08 239.67,444.07 240.27,443.92 240.87,444.04 241.47,443.87 242.07,444.21 242.67,443.95 243.27,444.29 243.87,443.95 244.47,444.42 245.07,444.76 245.67,444.56 246.27,444.33 246.87,443.78 247.47,444.08 248.07,443.73 248.67,443.89 249.27,442.35 249.87,443.73 250.47,444.35 251.07,444.18 251.67,444.04 252.27,443.98 252.87,443.72 253.47,444.05 254.07,444.52 254.67,444.69 255.27,444.29 255.87,443.89 256.47,444.32 257.07,444.27 257.67,444.65 258.27,444.19 258.87,443.77 259.47,444.06 260.07,443.73 260.67,444.24 261.27,444.79 261.87,443.82 262.47,444.3 263.07,444.69 263.67,443.96 264.27,443.84 264.87,444.31 265.47,445.43 266.07,445.19 266.67,445.61 267.27,444.64 267.87,445.44 268.47,445.69 269.07,444.48 269.67,444.99 270.27,444.7 270.87,444.47 271.47,445.72 272.07,445.04 272.67,444.5 273.27,445.61 273.87,444.85 274.47,444.97 275.07,444.62 275.67,444.76 276.27,444.34 276.87,444.69 277.47,445.04 278.07,444.15 278.67,444.63 279.27,444.87 279.87,444.43 280.47,444.98 281.07,444.66 281.67,444.75 282.27,444.59 282.87,444.49 283.47,444.1 284.07,444.61 284.67,443.27 285.27,444.76 285.87,444.05 286.47,444.12 287.07,443.78 287.67,443.71 288.27,443.74 288.87,444.41 289.47,444.06 290.07,443.61 290.67,444.42 291.27,444.78 291.87,443.12 292.47,444.15 293.07,443.44 293.67,444.3 294.27,444.34 294.87,443.89 295.47,444.11 296.07,444.61 296.67,444.5 297.27,444.49 297.87,444.6 298.47,444.1 299.07,444.24 299.67,444.44 300.27,443.57 300.87,444.36 301.47,443.46 302.07,444.22 302.67,443.92 303.27,444.43 303.87,444.07 304.47,444.23 305.07,444.01 305.67,444.32 306.27,444.34 306.87,443.79 307.47,444.25 308.07,443.91 308.67,443.86 309.27,444.12 309.87,443.64 310.47,444.31 311.07,443.91 311.67,444.54 312.27,444.53 312.87,443.36 313.47,443.74 314.07,444.06 314.67,443.73 315.27,444.09 315.87,443.36 316.47,443.8 317.07,443.36 317.67,443.26 318.27,443.81 318.87,443.66 319.47,444.27 320.07,444.07 320.67,443.74 321.27,443.88 321.87,443.84 322.47,444.22 323.07,443.93 323.67,444.11 324.27,444.29 324.87,443.73 325.47,444.46 326.07,444.34 326.67,444.27 327.27,444.16 327.87,444.66 328.47,444.59 329.07,445.31 329.67,443.97 330.27,444.15 330.87,444.97 331.47,444.96 332.07,444.8 332.67,444.54 333.27,444.99 333.87,445.04 334.47,444.49 335.07,444.66 335.67,443.75 336.27,444.76 336.87,444.44 337.47,444.07 338.07,443.51 338.67,444.82 339.27,444.41 339.87,444.48 340.47,444.55 341.07,444.63 341.67,444.14 342.27,444.65 342.87,444.83 343.47,445.01 344.07,444.62 344.67,444.32 345.27,444.45 345.87,444.68 346.47,444.3 347.07,444.75 347.67,443.71 348.27,444.61 348.87,444.38 349.47,444.46" stroke="#ff0000" stroke-width="1.35" fill="none" stroke-linejoin="round"/>
<polyline points="53.33,471 65.33,471 65.33,463.67 66,463.67 66.67,463.85 67.33,463 68,461.62 68.67,460.33 69.33,459.32 70,457 70.67,452.94 71.33,449 72,444.6 72.67,441 73.33,439.82 74,439.67 74.67,441.41 75.33,442.33 76,443.35 76.67,445 77.33,443.2 78,441 78.67,439.17 79.33,438.33 80,440.16 80.67,441 81.33,443.85 82,446.33 82.67,448.59 83.33,451 84,451.01 84.67,451.67 85.33,450.14 86,449 86.67,448.21 87.33,447.49 88,446.33 88.67,446.51 89.33,445.25 90,445 90.67,446.18 91.33,447 92,447.66 92.67,448.81 93.33,449 94,448.83 94.67,448.69 95.33,448.33 96,447.87 96.67,447.55 97.33,447 98,447.77 98.67,447.51 99.33,447.82 100,447.67 99.4,447.53 98.8,447.43 98.2,446.84 97.6,447.38 97,447 97.67,446.77 98.33,447.04 99,446.33 99.67,445.8 100.33,447.45 101,447.29 101.67,448.33 102.33,449.33 103,449.39 103.67,449.76 104.33,450.33 105,450.8 105.67,450.16 106.33,450.29 107,450.8 107.67,449.97 108.33,450.33 109,450.27 109.67,450.32 110.33,450.17 111,449.97 111.67,450.8 112.33,450.33 113,450.05 113.67,450.56 114.33,450.24 115,449.89 115.67,449.93 116.33,450.33 117,449.99 117.67,450.31 118.33,450.12 119,449.81 119.67,449.84 120.33,449.67 121,449.52 121.67,450.22 122.33,449.26 123,449.63 123.67,449.7 124.33,449.67 125,449.89 125.67,449.86 126.33,450.06 127,449.83 127.67,450.71 128.33,450.33 129,449.88 129.67,449.65 130.33,448.8 131,449 131.67,448.09 132.33,448.49 133,448.06 133.67,447.67 134.33,448 135,448 135.67,448.04 136.33,448.09 137,447.46 137.67,447.67 138.27,446.45 138.87,447.39 139.47,447.72 140.07,447.11 140.67,446.35 141.27,446.25 141.87,447.33 142.47,447.63 143.07,446.4 143.67,447.25 144.27,447.34 144.87,447.25 145.47,447 146.07,446.49 146.67,446.98 147.27,446.62 147.87,446.39 148.47,446.5 149.07,446.97 149.67,447.25 150.27,446.4 150.87,447.14 151.47,446.66 152.07,446.9 152.67,446.62 153.27,446.98 153.87,445.61 154.47,446.46 155.07,445.97 155.67,447.06 156.27,446.86 156.87,446.83 157.47,447.16 158.07,447.29 158.67,447.2 159.27,446 159.87,445.96 160.47,447.02 161.07,446.56 161.67,445.48 162.27,446.66 162.87,446.91 163.47,446.82 164.07,446.4 164.67,446.94 165.27,446.15 165.87,446.51 166.47,446.28 167.07,446.11 167.67,446.16 168.27,447.03 168.87,446.22 169.47,446.43 170.07,445.93 170.67,447 171.27,447.14 171.87,447.06 172.47,446.68 173.07,445.84 173.67,446.42 174.27,446.91 174.87,446.56 175.47,446.47 176.07,446.96 176.67,447.25 177.27,447.14 177.87,446.37 178.47,446.76 179.07,446.18 179.67,446.05 180.27,446.61 180.87,446.41 181.47,445.8 182.07,446.62 182.67,446.63 183.27,444.85 183.87,445.38 184.47,446.58 185.07,445.61 185.67,445.78 186.27,446.09 186.87,445.61 187.47,445.46 188.07,445.32 188.67,444.87 189.27,445.42 189.87,445.6 190.47,445.37 191.07,444.62 191.67,445.04 192.27,445.63 192.87,445.02 193.47,445.04 194.07,445.95 194.67,445.09 195.27,444.24 195.87,445.24 196.47,445.21 197.07,444.5 197.67,445.46 198.27,445.42 198.87,446.19 199.47,445.81 200.07,445.79 200.67,446.16 201.27,445.57 201.87,445.66 202.47,446.06 203.07,446.33 203.67,445.64 204.27,446.25 204.87,445.32 205.47,445.08 206.07,445.46 206.67,445.18 207.27,445.54 207.87,445.25 208.47,445.95 209.07,445.34 209.67,446.32 210.27,446.39 210.87,445.27 211.47,445.93 212.07,446.08 212.67,445.51 213.27,446.24 213.87,445.52 214.47,445.41 215.07,445.51 215.67,445.68 216.27,444.92 216.87,445.33 217.47,446.34 218.07,445.29 218.67,446.19 219.27,445.7 219.87,445.17 220.47,445.64 221.07,445.33 221.67,445.66 222.27,445.47 222.87,446.36 223.47,445.66 224.07,445.38 224.67,446.31 225.27,446.13 225.87,447.15 226.47,446.93 227.07,446.77 227.67,446.85 228.27,446.87 228.87,447.3 229.47,447.14 230.07,446.96 230.67,445.71 231.27,447.09 231.87,446.93 232.47,447.29 233.07,447.12 233.67,448 234.27,446.68 234.87,446.46 235.47,446.67 236.07,446.88 236.67,446.55 237.27,446.22 237.87,446.26 238.47,447.05 239.07,446.91 239.67,447.37 240.27,446.97 240.87,446.63 241.47,446.69 242.07,447.3 242.67,446.36 243.27,446.99 243.87,445.68 244.47,446.42 245.07,446.5 245.67,446.08 246.27,446.23 246.87,446.25 247.47,446.39 248.07,447.49 248.67,446.76 249.27,445.58 249.87,446.53 250.47,445.54 251.07,446.38 251.67,445.83 252.27,445.24 252.87,445.45 253.47,446.32 254.07,445.46 254.67,445.35 255.27,446.03 255.87,446.81 256.47,445.78 257.07,445.23 257.67,445.01 258.27,445.87 258.87,444.96 259.47,444.84 260.07,445.68 260.67,445.07 261.27,445.88 261.87,445.39 262.47,445.23 263.07,445.06 263.67,445.01 264.27,445.22 264.87,445.1 265.47,445.39 266.07,446.42 266.67,446.27 267.27,445.68 267.87,445.91 268.47,446.29 269.07,445.72 269.67,445.64 270.27,445.83 270.87,446.21 271.47,445.99 272.07,446.23 272.67,446.81 273.27,446.26 273.87,446 274.47,445.47 275.07,446.71 275.67,445.82 276.27,445.67 276.87,446.26 277.47,445.19 278.07,445.29 278.67,445.79 279.27,444.86 279.87,445.47 280.47,445.2 281.07,445.27 281.67,444.78 282.27,445.47 282.87,445.45 283.47,445.68 284.07,444.55 284.67,445.36 285.27,445.19 285.87,445.34 286.47,445.38 287.07,444.47 287.67,444.44 288.27,444.84 288.87,444.96 289.47,445.52 290.07,445.72 290.67,445.78 291.27,445.78 291.87,444.68 292.47,445.2 293.07,444.9 293.67,446.07 294.27,445.5 294.87,446.03 295.47,444.68 296.07,445.19 296.67,445.04 297.27,444.94 297.87,444.71 298.47,445.73 299.07,445.66 299.67,445.27 300.27,445.68 300.87,444.8 301.47,445.2 302.07,445.49 302.67,444.56 303.27,445.54 303.87,445.22 304.47,445.12 305.07,445.23 305.67,445.89 306.27,444.76 306.87,445.88 307.47,445.22 308.07,444.8 308.67,445.15 309.27,446.35 309.87,446.21 310.47,445.57 311.07,445.47 311.67,444.7 312.27,445.51 312.87,445.92 313.47,445.72 314.07,445.11 314.67,446.11 315.27,445 315.87,444.13 316.47,445.95 317.07,445.38 317.67,445.64 318.27,445.86 318.87,445.78 319.47,444.69 320.07,446.32 320.67,446.22 321.27,446.27 321.87,446.16 322.47,445.96 323.07,446.26 323.67,446.45 324.27,445.29 324.87,445.3 325.47,445.77 326.07,445.99 326.67,445.42 327.27,445.99 327.87,447.29 328.47,446.35 329.07,446.61 329.67,446.35 330.27,446.14 330.87,446.71 331.47,446.15 332.07,446.68 332.67,446.73 333.27,447.13 333.87,447.08 334.47,446.68 335.07,446.09 335.67,447.16 336.27,446.23 336.87,446.44 337.47,446.63 338.07,446.28 338.67,446.6 339.27,446.79 339.87,446.22 340.47,447.02 341.07,446.22 341.67,446.58 342.27,446.54 342.87,445.91 343.47,446.49 344.07,446.19 344.67,446.85 345.27,446.63 345.87,445.61 346.47,446.33 347.07,446.02 347.67,446.26 348.27,446.79 348.87,445.22 349.47,446.34" stroke="#000000" stroke-width="1.35" fill="none" stroke-linejoin="round"/>
<polyline points="53.4,526.4 53.4,495.5 53.8,501.3 54.5,492.8 55.3,489.1 56.4,487.5 57.5,486.9 58.5,487.5 59.6,489.1 60.7,491.2 61.7,493.9 62.8,496 63.9,497.6 65,499.59 66.5,501.56 68,502.8 69.5,503.74 71,504.46 72.5,505.01 74,505.53 75.5,505.98 77,506.4 78.5,506.75 80,507.03 81.5,507.27 83,507.46 84.5,507.65 86,507.82 87.5,507.99 89,508.18 90.5,508.36 92,508.55 93.5,508.74 95,508.92 96.5,509.09 98,509.27 99.5,509.44 101,509.56 102.5,509.64 104,509.72 105.5,509.8 107,509.88 108.5,509.97 110,510.05 111.5,510.13 113,510.22 114.5,510.3 116,510.38 117.5,510.46 119,510.55 120.5,510.62 122,510.69 123.5,510.76 125,510.83 126.5,510.89 128,510.96 129.5,511.03 131,511.1 132.5,511.16 134,511.23 135.5,511.3 137,511.37 138.5,511.43 140,511.5 141.5,511.57 143,511.63 144.5,511.7 146,511.77 147.5,511.84 149,511.9 150.5,511.97 152,512.04 153.5,512.11 155,512.17 156.5,512.24 158,512.31 159.5,512.38 161,512.44 162.5,512.5 164,512.56 165.5,512.62 167,512.68 168.5,512.74 170,512.8 171.5,512.86 173,512.92 174.5,512.98 176,513.04 177.5,513.1 179,513.16 180.5,513.22 182,513.3 183.5,513.37 185,513.44 186.5,513.51 188,513.58 189.5,513.66 191,513.73 192.5,513.8 194,513.87 195.5,513.94 197,514.02 198.5,514.09 200,514.16 201.5,514.23 203,514.3 204.5,514.38 206,514.44 207.5,514.5 209,514.56 210.5,514.62 212,514.68 213.5,514.74 215,514.8 216.5,514.86 218,514.92 219.5,514.98 221,515.04 222.5,515.1 224,515.16 225.5,515.22 227,515.28 228.5,515.34 230,515.4 231.5,515.46 233,515.52 234.5,515.58 236,515.63 237.5,515.68 239,515.73 240.5,515.78 242,515.83 243.5,515.88 245,515.93 246.5,515.98 248,516.03 249.5,516.08 251,516.13 252.5,516.18 254,516.23 255.5,516.28 257,516.33 258.5,516.38 260,516.43 261.5,516.48 263,516.53 264.5,516.58 266,516.63 267.5,516.67 269,516.71 270.5,516.76 272,516.8 273.5,516.84 275,516.89 276.5,516.93 278,516.97 279.5,517.01 281,517.06 282.5,517.1 284,517.14 285.5,517.19 287,517.23 288.5,517.27 290,517.31 291.5,517.36 293,517.4 294.5,517.44 296,517.49 297.5,517.53 299,517.57 300.5,517.61 302,517.65 303.5,517.69 305,517.73 306.5,517.76 308,517.8 309.5,517.84 311,517.88 312.5,517.91 314,517.95 315.5,517.99 317,518.02 318.5,518.06 320,518.1 321.5,518.14 323,518.18 324.5,518.21 326,518.25 327.5,518.29 329,518.33 330.5,518.36 332,518.4 333.5,518.44 335,518.48 336.5,518.51 338,518.55 339.5,518.59 341,518.63 342.5,518.68 344,518.72 345.5,518.77 347,518.81 348.5,518.86 349.95,518.9" stroke="#0000ff" stroke-width="1.35" fill="none" stroke-linejoin="round"/>
<polyline points="59.33,526.4 59.33,493.9 59.8,502.4 60.7,500.8 61.7,499.2 62.8,498.1 63.9,497.6 65.21,497.1 65.26,490.6 65.51,502.32 66.36,501.12 71.15,499.42 71.2,488.6 71.45,501.42 72.3,500.22 77.08,499.23 77.13,486.6 77.38,501.23 78.23,500.03 83.01,499.14 83.06,485.6 83.31,501.14 84.16,499.94 88.94,499.27 88.99,485.7 89.24,501.27 90.09,500.07 94.87,499.61 94.92,485.9 95.17,501.61 96.02,500.41 100.81,499.94 100.86,486.1 101.11,501.94 101.96,500.74 106.74,500.24 106.79,486.3 107.04,502.24 107.89,501.04 112.67,500.54 112.72,486.5 112.97,502.54 113.82,501.34 118.6,500.83 118.65,486.88 118.9,502.83 119.75,501.63 124.53,501.14 124.58,487.27 124.83,503.14 125.68,501.94 130.47,501.46 130.52,487.65 130.77,503.46 131.62,502.26 136.4,501.79 136.45,488.03 136.7,503.79 137.55,502.59 142.33,502.18 142.38,488.43 142.63,504.18 143.48,502.98 148.26,502.57 148.31,488.82 148.56,504.57 149.41,503.37 154.19,502.95 154.24,489.22 154.49,504.95 155.34,503.75 160.13,503.27 160.18,489.6 160.43,505.27 161.28,504.07 166.06,503.58 166.11,489.77 166.36,505.58 167.21,504.38 171.99,503.89 172.04,489.94 172.29,505.89 173.14,504.69 177.92,504.19 177.97,490.11 178.22,506.19 179.07,504.99 183.85,504.46 183.9,490.27 184.15,506.46 185,505.26 189.79,504.69 189.84,490.44 190.09,506.69 190.94,505.49 195.72,504.93 195.77,490.61 196.02,506.93 196.87,505.73 201.65,505.17 201.7,490.77 201.95,507.17 202.8,505.97 207.58,505.36 207.63,490.87 207.88,507.36 208.73,506.16 213.51,505.5 213.56,490.96 213.81,507.5 214.66,506.3 219.45,505.64 219.5,491.05 219.75,507.64 220.6,506.44 225.38,505.78 225.43,491.13 225.68,507.78 226.53,506.58 231.31,505.92 231.36,491.22 231.61,507.92 232.46,506.72 237.24,506.05 237.29,491.31 237.54,508.05 238.39,506.85 243.17,506.16 243.22,491.48 243.47,508.16 244.32,506.96 249.11,506.28 249.16,491.65 249.41,508.28 250.26,507.08 255.04,506.4 255.09,491.82 255.34,508.4 256.19,507.2 260.97,506.52 261.02,491.99 261.27,508.52 262.12,507.32 266.9,506.65 266.95,492.16 267.2,508.65 268.05,507.45 272.83,506.8 272.88,492.31 273.13,508.8 273.98,507.6 278.77,506.96 278.82,492.39 279.07,508.96 279.92,507.76 284.7,507.11 284.75,492.48 285,509.11 285.85,507.91 290.63,507.26 290.68,492.56 290.93,509.26 291.78,508.06 296.56,507.41 296.61,492.64 296.86,509.41 297.71,508.21 302.49,507.55 302.54,492.72 302.79,509.55 303.64,508.35 308.43,507.67 308.48,492.8 308.73,509.67 309.58,508.47 314.36,507.79 314.41,492.84 314.66,509.79 315.51,508.59 320.29,507.91 320.34,492.87 320.59,509.91 321.44,508.71 326.22,508.03 326.27,492.9 326.52,510.03 327.37,508.83 332.15,508.14 332.2,492.94 332.45,510.14 333.3,508.94 338.09,508.26 338.14,492.97 338.39,510.26 339.24,509.06 344.02,508.34 344.07,493.01 344.32,510.34 345.17,509.14 349.95,508.5" stroke="#ff0000" stroke-width="1.35" fill="none" stroke-linejoin="round"/>
<polyline points="53.4,526.4 65.26,526.4 65.26,504.6 77.08,504.1 77.13,502.5 77.21,507.56 77.58,506.16 88.94,505.29 88.99,503.69 89.07,508.69 89.44,507.29 100.81,507.25 100.86,505.65 100.94,510.15 101.31,508.75 112.67,507.9 112.72,506.3 112.8,510.8 113.17,509.4 124.53,508.51 124.58,506.91 124.66,511.41 125.03,510.01 136.4,509.04 136.45,507.44 136.53,511.94 136.9,510.54 148.26,509.58 148.31,507.97 148.39,512.47 148.76,511.07 160.13,510.11 160.18,508.51 160.26,513.01 160.63,511.61 171.99,510.59 172.04,508.98 172.12,513.48 172.49,512.08 183.85,511.09 183.9,509.49 183.98,513.99 184.35,512.59 195.72,511.66 195.77,510.06 195.85,514.56 196.22,513.16 207.58,512.21 207.63,510.61 207.71,515.11 208.08,513.71 219.45,512.68 219.5,511.08 219.58,515.58 219.95,514.18 231.31,513.16 231.36,511.55 231.44,516.05 231.81,514.65 243.17,513.58 243.22,511.97 243.3,516.47 243.67,515.07 255.04,513.97 255.09,512.37 255.17,516.87 255.54,515.47 266.9,514.36 266.95,512.76 267.03,517.26 267.4,515.86 278.77,514.7 278.82,513.09 278.9,517.59 279.27,516.19 290.63,515.04 290.68,513.43 290.76,517.93 291.13,516.53 302.49,515.37 302.54,513.76 302.62,518.26 302.99,516.86 314.36,515.67 314.41,514.06 314.49,518.56 314.86,517.16 326.22,515.96 326.27,514.36 326.35,518.86 326.72,517.46 338.09,516.26 338.14,514.65 338.22,519.15 338.59,517.75 349.95,516.6" stroke="#000000" stroke-width="1.35" fill="none" stroke-linejoin="round"/>
<rect x="38.45" y="40.5" width="326.3" height="45.95" fill="none" stroke="#000" stroke-width="0.6"/>
<line x1="53.4" y1="86.45" x2="53.4" y2="88.55" stroke="#000" stroke-width="0.6"/>
<text x="53.4" y="94.9" class="tl" text-anchor="middle" textLength="3.56" lengthAdjust="spacingAndGlyphs">0</text>
<line x1="112.72" y1="86.45" x2="112.72" y2="88.55" stroke="#000" stroke-width="0.6"/>
<text x="112.72" y="94.9" class="tl" text-anchor="middle" textLength="10.68" lengthAdjust="spacingAndGlyphs">100</text>
<line x1="172.04" y1="86.45" x2="172.04" y2="88.55" stroke="#000" stroke-width="0.6"/>
<text x="172.04" y="94.9" class="tl" text-anchor="middle" textLength="10.68" lengthAdjust="spacingAndGlyphs">200</text>
<line x1="231.36" y1="86.45" x2="231.36" y2="88.55" stroke="#000" stroke-width="0.6"/>
<text x="231.36" y="94.9" class="tl" text-anchor="middle" textLength="10.68" lengthAdjust="spacingAndGlyphs">300</text>
<line x1="290.68" y1="86.45" x2="290.68" y2="88.55" stroke="#000" stroke-width="0.6"/>
<text x="290.68" y="94.9" class="tl" text-anchor="middle" textLength="10.68" lengthAdjust="spacingAndGlyphs">400</text>
<line x1="350" y1="86.45" x2="350" y2="88.55" stroke="#000" stroke-width="0.6"/>
<text x="350" y="94.9" class="tl" text-anchor="middle" textLength="10.68" lengthAdjust="spacingAndGlyphs">500</text>
<line x1="36.35" y1="52.9" x2="38.45" y2="52.9" stroke="#000" stroke-width="0.6"/>
<text x="34.8" y="55.1" class="tl" text-anchor="end" textLength="7.12" lengthAdjust="spacingAndGlyphs">20</text>
<line x1="36.35" y1="68.6" x2="38.45" y2="68.6" stroke="#000" stroke-width="0.6"/>
<text x="34.8" y="70.8" class="tl" text-anchor="end" textLength="7.12" lengthAdjust="spacingAndGlyphs">10</text>
<line x1="36.35" y1="84.3" x2="38.45" y2="84.3" stroke="#000" stroke-width="0.6"/>
<text x="34.8" y="86.5" class="tl" text-anchor="end" textLength="3.56" lengthAdjust="spacingAndGlyphs">0</text>
<text class="yl" text-anchor="middle" textLength="36.4" lengthAdjust="spacingAndGlyphs" transform="translate(24.4,63.9) rotate(-90)">V RMSE (mV)</text>
<rect x="38.45" y="95.76" width="326.3" height="45.95" fill="none" stroke="#000" stroke-width="0.6"/>
<line x1="53.4" y1="141.71" x2="53.4" y2="143.81" stroke="#000" stroke-width="0.6"/>
<text x="53.4" y="150.16" class="tl" text-anchor="middle" textLength="3.56" lengthAdjust="spacingAndGlyphs">0</text>
<line x1="112.72" y1="141.71" x2="112.72" y2="143.81" stroke="#000" stroke-width="0.6"/>
<text x="112.72" y="150.16" class="tl" text-anchor="middle" textLength="10.68" lengthAdjust="spacingAndGlyphs">100</text>
<line x1="172.04" y1="141.71" x2="172.04" y2="143.81" stroke="#000" stroke-width="0.6"/>
<text x="172.04" y="150.16" class="tl" text-anchor="middle" textLength="10.68" lengthAdjust="spacingAndGlyphs">200</text>
<line x1="231.36" y1="141.71" x2="231.36" y2="143.81" stroke="#000" stroke-width="0.6"/>
<text x="231.36" y="150.16" class="tl" text-anchor="middle" textLength="10.68" lengthAdjust="spacingAndGlyphs">300</text>
<line x1="290.68" y1="141.71" x2="290.68" y2="143.81" stroke="#000" stroke-width="0.6"/>
<text x="290.68" y="150.16" class="tl" text-anchor="middle" textLength="10.68" lengthAdjust="spacingAndGlyphs">400</text>
<line x1="350" y1="141.71" x2="350" y2="143.81" stroke="#000" stroke-width="0.6"/>
<text x="350" y="150.16" class="tl" text-anchor="middle" textLength="10.68" lengthAdjust="spacingAndGlyphs">500</text>
<line x1="36.35" y1="117.2" x2="38.45" y2="117.2" stroke="#000" stroke-width="0.6"/>
<text x="34.8" y="119.4" class="tl" text-anchor="end" textLength="8.9" lengthAdjust="spacingAndGlyphs">0.2</text>
<line x1="36.35" y1="139.6" x2="38.45" y2="139.6" stroke="#000" stroke-width="0.6"/>
<text x="34.8" y="141.8" class="tl" text-anchor="end" textLength="8.9" lengthAdjust="spacingAndGlyphs">0.0</text>
<text class="yl" text-anchor="middle" textLength="25.4" lengthAdjust="spacingAndGlyphs" transform="translate(22.9,119.1) rotate(-90)"><tspan font-style="italic">h</tspan><tspan font-size="4.2" dy="1.2">Na</tspan><tspan dy="-1.2"> </tspan>RMSE</text>
<rect x="38.45" y="151.01" width="326.3" height="45.95" fill="none" stroke="#000" stroke-width="0.6"/>
<line x1="53.4" y1="196.96" x2="53.4" y2="199.06" stroke="#000" stroke-width="0.6"/>
<text x="53.4" y="205.41" class="tl" text-anchor="middle" textLength="3.56" lengthAdjust="spacingAndGlyphs">0</text>
<line x1="112.72" y1="196.96" x2="112.72" y2="199.06" stroke="#000" stroke-width="0.6"/>
<text x="112.72" y="205.41" class="tl" text-anchor="middle" textLength="10.68" lengthAdjust="spacingAndGlyphs">100</text>
<line x1="172.04" y1="196.96" x2="172.04" y2="199.06" stroke="#000" stroke-width="0.6"/>
<text x="172.04" y="205.41" class="tl" text-anchor="middle" textLength="10.68" lengthAdjust="spacingAndGlyphs">200</text>
<line x1="231.36" y1="196.96" x2="231.36" y2="199.06" stroke="#000" stroke-width="0.6"/>
<text x="231.36" y="205.41" class="tl" text-anchor="middle" textLength="10.68" lengthAdjust="spacingAndGlyphs">300</text>
<line x1="290.68" y1="196.96" x2="290.68" y2="199.06" stroke="#000" stroke-width="0.6"/>
<text x="290.68" y="205.41" class="tl" text-anchor="middle" textLength="10.68" lengthAdjust="spacingAndGlyphs">400</text>
<line x1="350" y1="196.96" x2="350" y2="199.06" stroke="#000" stroke-width="0.6"/>
<text x="350" y="205.41" class="tl" text-anchor="middle" textLength="10.68" lengthAdjust="spacingAndGlyphs">500</text>
<line x1="36.35" y1="164.5" x2="38.45" y2="164.5" stroke="#000" stroke-width="0.6"/>
<text x="34.8" y="166.7" class="tl" text-anchor="end" textLength="8.9" lengthAdjust="spacingAndGlyphs">0.2</text>
<line x1="36.35" y1="179.4" x2="38.45" y2="179.4" stroke="#000" stroke-width="0.6"/>
<text x="34.8" y="181.6" class="tl" text-anchor="end" textLength="8.9" lengthAdjust="spacingAndGlyphs">0.1</text>
<line x1="36.35" y1="194.9" x2="38.45" y2="194.9" stroke="#000" stroke-width="0.6"/>
<text x="34.8" y="197.1" class="tl" text-anchor="end" textLength="8.9" lengthAdjust="spacingAndGlyphs">0.0</text>
<text class="yl" text-anchor="middle" textLength="27.2" lengthAdjust="spacingAndGlyphs" transform="translate(22.8,173.9) rotate(-90)"><tspan font-style="italic">n</tspan><tspan font-size="4.2" dy="1.2">Kdr</tspan><tspan dy="-1.2"> </tspan>RMSE</text>
<rect x="38.45" y="206.27" width="326.3" height="45.95" fill="none" stroke="#000" stroke-width="0.6"/>
<line x1="53.4" y1="252.22" x2="53.4" y2="254.32" stroke="#000" stroke-width="0.6"/>
<text x="53.4" y="260.67" class="tl" text-anchor="middle" textLength="3.56" lengthAdjust="spacingAndGlyphs">0</text>
<line x1="112.72" y1="252.22" x2="112.72" y2="254.32" stroke="#000" stroke-width="0.6"/>
<text x="112.72" y="260.67" class="tl" text-anchor="middle" textLength="10.68" lengthAdjust="spacingAndGlyphs">100</text>
<line x1="172.04" y1="252.22" x2="172.04" y2="254.32" stroke="#000" stroke-width="0.6"/>
<text x="172.04" y="260.67" class="tl" text-anchor="middle" textLength="10.68" lengthAdjust="spacingAndGlyphs">200</text>
<line x1="231.36" y1="252.22" x2="231.36" y2="254.32" stroke="#000" stroke-width="0.6"/>
<text x="231.36" y="260.67" class="tl" text-anchor="middle" textLength="10.68" lengthAdjust="spacingAndGlyphs">300</text>
<line x1="290.68" y1="252.22" x2="290.68" y2="254.32" stroke="#000" stroke-width="0.6"/>
<text x="290.68" y="260.67" class="tl" text-anchor="middle" textLength="10.68" lengthAdjust="spacingAndGlyphs">400</text>
<line x1="350" y1="252.22" x2="350" y2="254.32" stroke="#000" stroke-width="0.6"/>
<text x="350" y="260.67" class="tl" text-anchor="middle" textLength="10.68" lengthAdjust="spacingAndGlyphs">500</text>
<line x1="36.35" y1="211.2" x2="38.45" y2="211.2" stroke="#000" stroke-width="0.6"/>
<text x="34.8" y="213.4" class="tl" text-anchor="end" textLength="8.9" lengthAdjust="spacingAndGlyphs">0.3</text>
<line x1="36.35" y1="224.3" x2="38.45" y2="224.3" stroke="#000" stroke-width="0.6"/>
<text x="34.8" y="226.5" class="tl" text-anchor="end" textLength="8.9" lengthAdjust="spacingAndGlyphs">0.2</text>
<line x1="36.35" y1="237.3" x2="38.45" y2="237.3" stroke="#000" stroke-width="0.6"/>
<text x="34.8" y="239.5" class="tl" text-anchor="end" textLength="8.9" lengthAdjust="spacingAndGlyphs">0.1</text>
<line x1="36.35" y1="250.4" x2="38.45" y2="250.4" stroke="#000" stroke-width="0.6"/>
<text x="34.8" y="252.6" class="tl" text-anchor="end" textLength="8.9" lengthAdjust="spacingAndGlyphs">0.0</text>
<text class="yl" text-anchor="middle" textLength="26.5" lengthAdjust="spacingAndGlyphs" transform="translate(22.8,229.25) rotate(-90)"><tspan font-style="italic">b</tspan><tspan font-size="4.2" dy="1.2">Kdr</tspan><tspan dy="-1.2"> </tspan>RMSE</text>
<rect x="38.45" y="261.52" width="326.3" height="45.95" fill="none" stroke="#000" stroke-width="0.6"/>
<line x1="53.4" y1="307.47" x2="53.4" y2="309.57" stroke="#000" stroke-width="0.6"/>
<text x="53.4" y="315.92" class="tl" text-anchor="middle" textLength="3.56" lengthAdjust="spacingAndGlyphs">0</text>
<line x1="112.72" y1="307.47" x2="112.72" y2="309.57" stroke="#000" stroke-width="0.6"/>
<text x="112.72" y="315.92" class="tl" text-anchor="middle" textLength="10.68" lengthAdjust="spacingAndGlyphs">100</text>
<line x1="172.04" y1="307.47" x2="172.04" y2="309.57" stroke="#000" stroke-width="0.6"/>
<text x="172.04" y="315.92" class="tl" text-anchor="middle" textLength="10.68" lengthAdjust="spacingAndGlyphs">200</text>
<line x1="231.36" y1="307.47" x2="231.36" y2="309.57" stroke="#000" stroke-width="0.6"/>
<text x="231.36" y="315.92" class="tl" text-anchor="middle" textLength="10.68" lengthAdjust="spacingAndGlyphs">300</text>
<line x1="290.68" y1="307.47" x2="290.68" y2="309.57" stroke="#000" stroke-width="0.6"/>
<text x="290.68" y="315.92" class="tl" text-anchor="middle" textLength="10.68" lengthAdjust="spacingAndGlyphs">400</text>
<line x1="350" y1="307.47" x2="350" y2="309.57" stroke="#000" stroke-width="0.6"/>
<text x="350" y="315.92" class="tl" text-anchor="middle" textLength="10.68" lengthAdjust="spacingAndGlyphs">500</text>
<line x1="36.35" y1="283.5" x2="38.45" y2="283.5" stroke="#000" stroke-width="0.6"/>
<text x="34.8" y="285.7" class="tl" text-anchor="end" textLength="8.9" lengthAdjust="spacingAndGlyphs">0.1</text>
<line x1="36.35" y1="305.9" x2="38.45" y2="305.9" stroke="#000" stroke-width="0.6"/>
<text x="34.8" y="308.1" class="tl" text-anchor="end" textLength="8.9" lengthAdjust="spacingAndGlyphs">0.0</text>
<text class="yl" text-anchor="middle" textLength="23.6" lengthAdjust="spacingAndGlyphs" transform="translate(23.1,285) rotate(-90)"><tspan font-style="italic">z</tspan><tspan font-size="4.2" dy="1.2">M</tspan><tspan dy="-1.2"> </tspan>RMSE</text>
<rect x="38.45" y="316.78" width="326.3" height="45.95" fill="none" stroke="#000" stroke-width="0.6"/>
<line x1="53.4" y1="362.73" x2="53.4" y2="364.83" stroke="#000" stroke-width="0.6"/>
<text x="53.4" y="371.18" class="tl" text-anchor="middle" textLength="3.56" lengthAdjust="spacingAndGlyphs">0</text>
<line x1="112.72" y1="362.73" x2="112.72" y2="364.83" stroke="#000" stroke-width="0.6"/>
<text x="112.72" y="371.18" class="tl" text-anchor="middle" textLength="10.68" lengthAdjust="spacingAndGlyphs">100</text>
<line x1="172.04" y1="362.73" x2="172.04" y2="364.83" stroke="#000" stroke-width="0.6"/>
<text x="172.04" y="371.18" class="tl" text-anchor="middle" textLength="10.68" lengthAdjust="spacingAndGlyphs">200</text>
<line x1="231.36" y1="362.73" x2="231.36" y2="364.83" stroke="#000" stroke-width="0.6"/>
<text x="231.36" y="371.18" class="tl" text-anchor="middle" textLength="10.68" lengthAdjust="spacingAndGlyphs">300</text>
<line x1="290.68" y1="362.73" x2="290.68" y2="364.83" stroke="#000" stroke-width="0.6"/>
<text x="290.68" y="371.18" class="tl" text-anchor="middle" textLength="10.68" lengthAdjust="spacingAndGlyphs">400</text>
<line x1="350" y1="362.73" x2="350" y2="364.83" stroke="#000" stroke-width="0.6"/>
<text x="350" y="371.18" class="tl" text-anchor="middle" textLength="10.68" lengthAdjust="spacingAndGlyphs">500</text>
<line x1="36.35" y1="324.1" x2="38.45" y2="324.1" stroke="#000" stroke-width="0.6"/>
<text x="34.8" y="326.3" class="tl" text-anchor="end" textLength="12.47" lengthAdjust="spacingAndGlyphs">0.10</text>
<line x1="36.35" y1="342.8" x2="38.45" y2="342.8" stroke="#000" stroke-width="0.6"/>
<text x="34.8" y="345" class="tl" text-anchor="end" textLength="12.47" lengthAdjust="spacingAndGlyphs">0.05</text>
<line x1="36.35" y1="361.2" x2="38.45" y2="361.2" stroke="#000" stroke-width="0.6"/>
<text x="34.8" y="363.4" class="tl" text-anchor="end" textLength="12.47" lengthAdjust="spacingAndGlyphs">0.00</text>
<text class="yl" text-anchor="middle" textLength="24" lengthAdjust="spacingAndGlyphs" transform="translate(19.2,340.2) rotate(-90)"><tspan font-style="italic">r</tspan><tspan font-size="4.2" dy="1.2">Ca</tspan><tspan dy="-1.2"> </tspan>RMSE</text>
<rect x="38.45" y="372.04" width="326.3" height="45.95" fill="none" stroke="#000" stroke-width="0.6"/>
<line x1="53.4" y1="417.99" x2="53.4" y2="420.09" stroke="#000" stroke-width="0.6"/>
<text x="53.4" y="426.44" class="tl" text-anchor="middle" textLength="3.56" lengthAdjust="spacingAndGlyphs">0</text>
<line x1="112.72" y1="417.99" x2="112.72" y2="420.09" stroke="#000" stroke-width="0.6"/>
<text x="112.72" y="426.44" class="tl" text-anchor="middle" textLength="10.68" lengthAdjust="spacingAndGlyphs">100</text>
<line x1="172.04" y1="417.99" x2="172.04" y2="420.09" stroke="#000" stroke-width="0.6"/>
<text x="172.04" y="426.44" class="tl" text-anchor="middle" textLength="10.68" lengthAdjust="spacingAndGlyphs">200</text>
<line x1="231.36" y1="417.99" x2="231.36" y2="420.09" stroke="#000" stroke-width="0.6"/>
<text x="231.36" y="426.44" class="tl" text-anchor="middle" textLength="10.68" lengthAdjust="spacingAndGlyphs">300</text>
<line x1="290.68" y1="417.99" x2="290.68" y2="420.09" stroke="#000" stroke-width="0.6"/>
<text x="290.68" y="426.44" class="tl" text-anchor="middle" textLength="10.68" lengthAdjust="spacingAndGlyphs">400</text>
<line x1="350" y1="417.99" x2="350" y2="420.09" stroke="#000" stroke-width="0.6"/>
<text x="350" y="426.44" class="tl" text-anchor="middle" textLength="10.68" lengthAdjust="spacingAndGlyphs">500</text>
<line x1="36.35" y1="380.5" x2="38.45" y2="380.5" stroke="#000" stroke-width="0.6"/>
<text x="34.8" y="382.7" class="tl" text-anchor="end" textLength="8.9" lengthAdjust="spacingAndGlyphs">0.2</text>
<line x1="36.35" y1="398.6" x2="38.45" y2="398.6" stroke="#000" stroke-width="0.6"/>
<text x="34.8" y="400.8" class="tl" text-anchor="end" textLength="8.9" lengthAdjust="spacingAndGlyphs">0.1</text>
<line x1="36.35" y1="416.5" x2="38.45" y2="416.5" stroke="#000" stroke-width="0.6"/>
<text x="34.8" y="418.7" class="tl" text-anchor="end" textLength="8.9" lengthAdjust="spacingAndGlyphs">0.0</text>
<text class="yl" text-anchor="middle" textLength="29.4" lengthAdjust="spacingAndGlyphs" transform="translate(23.1,395.7) rotate(-90)">[Ca]<tspan font-size="4.2" dy="1.2">i</tspan><tspan dy="-1.2"> </tspan>RMSE</text>
<rect x="38.45" y="427.29" width="326.3" height="45.95" fill="none" stroke="#000" stroke-width="0.6"/>
<line x1="53.4" y1="473.24" x2="53.4" y2="475.34" stroke="#000" stroke-width="0.6"/>
<text x="53.4" y="481.69" class="tl" text-anchor="middle" textLength="3.56" lengthAdjust="spacingAndGlyphs">0</text>
<line x1="112.72" y1="473.24" x2="112.72" y2="475.34" stroke="#000" stroke-width="0.6"/>
<text x="112.72" y="481.69" class="tl" text-anchor="middle" textLength="10.68" lengthAdjust="spacingAndGlyphs">100</text>
<line x1="172.04" y1="473.24" x2="172.04" y2="475.34" stroke="#000" stroke-width="0.6"/>
<text x="172.04" y="481.69" class="tl" text-anchor="middle" textLength="10.68" lengthAdjust="spacingAndGlyphs">200</text>
<line x1="231.36" y1="473.24" x2="231.36" y2="475.34" stroke="#000" stroke-width="0.6"/>
<text x="231.36" y="481.69" class="tl" text-anchor="middle" textLength="10.68" lengthAdjust="spacingAndGlyphs">300</text>
<line x1="290.68" y1="473.24" x2="290.68" y2="475.34" stroke="#000" stroke-width="0.6"/>
<text x="290.68" y="481.69" class="tl" text-anchor="middle" textLength="10.68" lengthAdjust="spacingAndGlyphs">400</text>
<line x1="350" y1="473.24" x2="350" y2="475.34" stroke="#000" stroke-width="0.6"/>
<text x="350" y="481.69" class="tl" text-anchor="middle" textLength="10.68" lengthAdjust="spacingAndGlyphs">500</text>
<line x1="36.35" y1="438.1" x2="38.45" y2="438.1" stroke="#000" stroke-width="0.6"/>
<text x="34.8" y="440.3" class="tl" text-anchor="end" textLength="12.47" lengthAdjust="spacingAndGlyphs">0.10</text>
<line x1="36.35" y1="454.7" x2="38.45" y2="454.7" stroke="#000" stroke-width="0.6"/>
<text x="34.8" y="456.9" class="tl" text-anchor="end" textLength="12.47" lengthAdjust="spacingAndGlyphs">0.05</text>
<line x1="36.35" y1="471.5" x2="38.45" y2="471.5" stroke="#000" stroke-width="0.6"/>
<text x="34.8" y="473.7" class="tl" text-anchor="end" textLength="12.47" lengthAdjust="spacingAndGlyphs">0.00</text>
<text class="yl" text-anchor="middle" textLength="25.5" lengthAdjust="spacingAndGlyphs" transform="translate(19.2,450.5) rotate(-90)"><tspan font-style="italic">c</tspan><tspan font-size="4.2" dy="1.2">Ca</tspan><tspan dy="-1.2"> </tspan>RMSE</text>
<rect x="38.45" y="482.55" width="326.3" height="45.95" fill="none" stroke="#000" stroke-width="0.6"/>
<line x1="53.4" y1="528.5" x2="53.4" y2="530.6" stroke="#000" stroke-width="0.6"/>
<text x="53.4" y="536.95" class="tl" text-anchor="middle" textLength="3.56" lengthAdjust="spacingAndGlyphs">0</text>
<line x1="112.72" y1="528.5" x2="112.72" y2="530.6" stroke="#000" stroke-width="0.6"/>
<text x="112.72" y="536.95" class="tl" text-anchor="middle" textLength="10.68" lengthAdjust="spacingAndGlyphs">100</text>
<line x1="172.04" y1="528.5" x2="172.04" y2="530.6" stroke="#000" stroke-width="0.6"/>
<text x="172.04" y="536.95" class="tl" text-anchor="middle" textLength="10.68" lengthAdjust="spacingAndGlyphs">200</text>
<line x1="231.36" y1="528.5" x2="231.36" y2="530.6" stroke="#000" stroke-width="0.6"/>
<text x="231.36" y="536.95" class="tl" text-anchor="middle" textLength="10.68" lengthAdjust="spacingAndGlyphs">300</text>
<line x1="290.68" y1="528.5" x2="290.68" y2="530.6" stroke="#000" stroke-width="0.6"/>
<text x="290.68" y="536.95" class="tl" text-anchor="middle" textLength="10.68" lengthAdjust="spacingAndGlyphs">400</text>
<line x1="350" y1="528.5" x2="350" y2="530.6" stroke="#000" stroke-width="0.6"/>
<text x="350" y="536.95" class="tl" text-anchor="middle" textLength="10.68" lengthAdjust="spacingAndGlyphs">500</text>
<line x1="36.35" y1="494.5" x2="38.45" y2="494.5" stroke="#000" stroke-width="0.6"/>
<text x="34.8" y="496.7" class="tl" text-anchor="end" textLength="19.59" lengthAdjust="spacingAndGlyphs">0.0004</text>
<line x1="36.35" y1="510.5" x2="38.45" y2="510.5" stroke="#000" stroke-width="0.6"/>
<text x="34.8" y="512.7" class="tl" text-anchor="end" textLength="19.59" lengthAdjust="spacingAndGlyphs">0.0002</text>
<line x1="36.35" y1="526.7" x2="38.45" y2="526.7" stroke="#000" stroke-width="0.6"/>
<text x="34.8" y="528.9" class="tl" text-anchor="end" textLength="19.59" lengthAdjust="spacingAndGlyphs">0.0000</text>
<text class="yl" text-anchor="middle" textLength="30.2" lengthAdjust="spacingAndGlyphs" transform="translate(11.7,506.1) rotate(-90)"><tspan font-style="italic">q</tspan><tspan font-size="4.2" dy="1.2">AHP</tspan><tspan dy="-1.2"> </tspan>RMSE</text>

<rect x="312.8" y="7.5" width="51.3" height="25.4" rx="1.2" fill="#fff" fill-opacity="0.8" stroke="#cccccc" stroke-width="0.55"/>
<line x1="314.9" y1="12.0" x2="326.7" y2="12.0" stroke="#0000ff" stroke-width="1.35"/>
<line x1="314.9" y1="20" x2="326.7" y2="20" stroke="#ff0000" stroke-width="1.35"/>
<line x1="314.9" y1="28.15" x2="326.7" y2="28.15" stroke="#000" stroke-width="1.35"/>
<text x="330.6" y="13.9" class="tl" text-anchor="start" textLength="31.75" lengthAdjust="spacingAndGlyphs">Single Step</text><text x="330.6" y="22" class="tl" text-anchor="start" textLength="25.22" lengthAdjust="spacingAndGlyphs">100 Step</text><text x="330.6" y="30.2" class="tl" text-anchor="start" textLength="25.22" lengthAdjust="spacingAndGlyphs">200 Step</text>
<text x="202.1" y="544.5" class="tl" text-anchor="middle" textLength="28.4" lengthAdjust="spacingAndGlyphs">Time (ms)</text>
</svg>
</body></html>
